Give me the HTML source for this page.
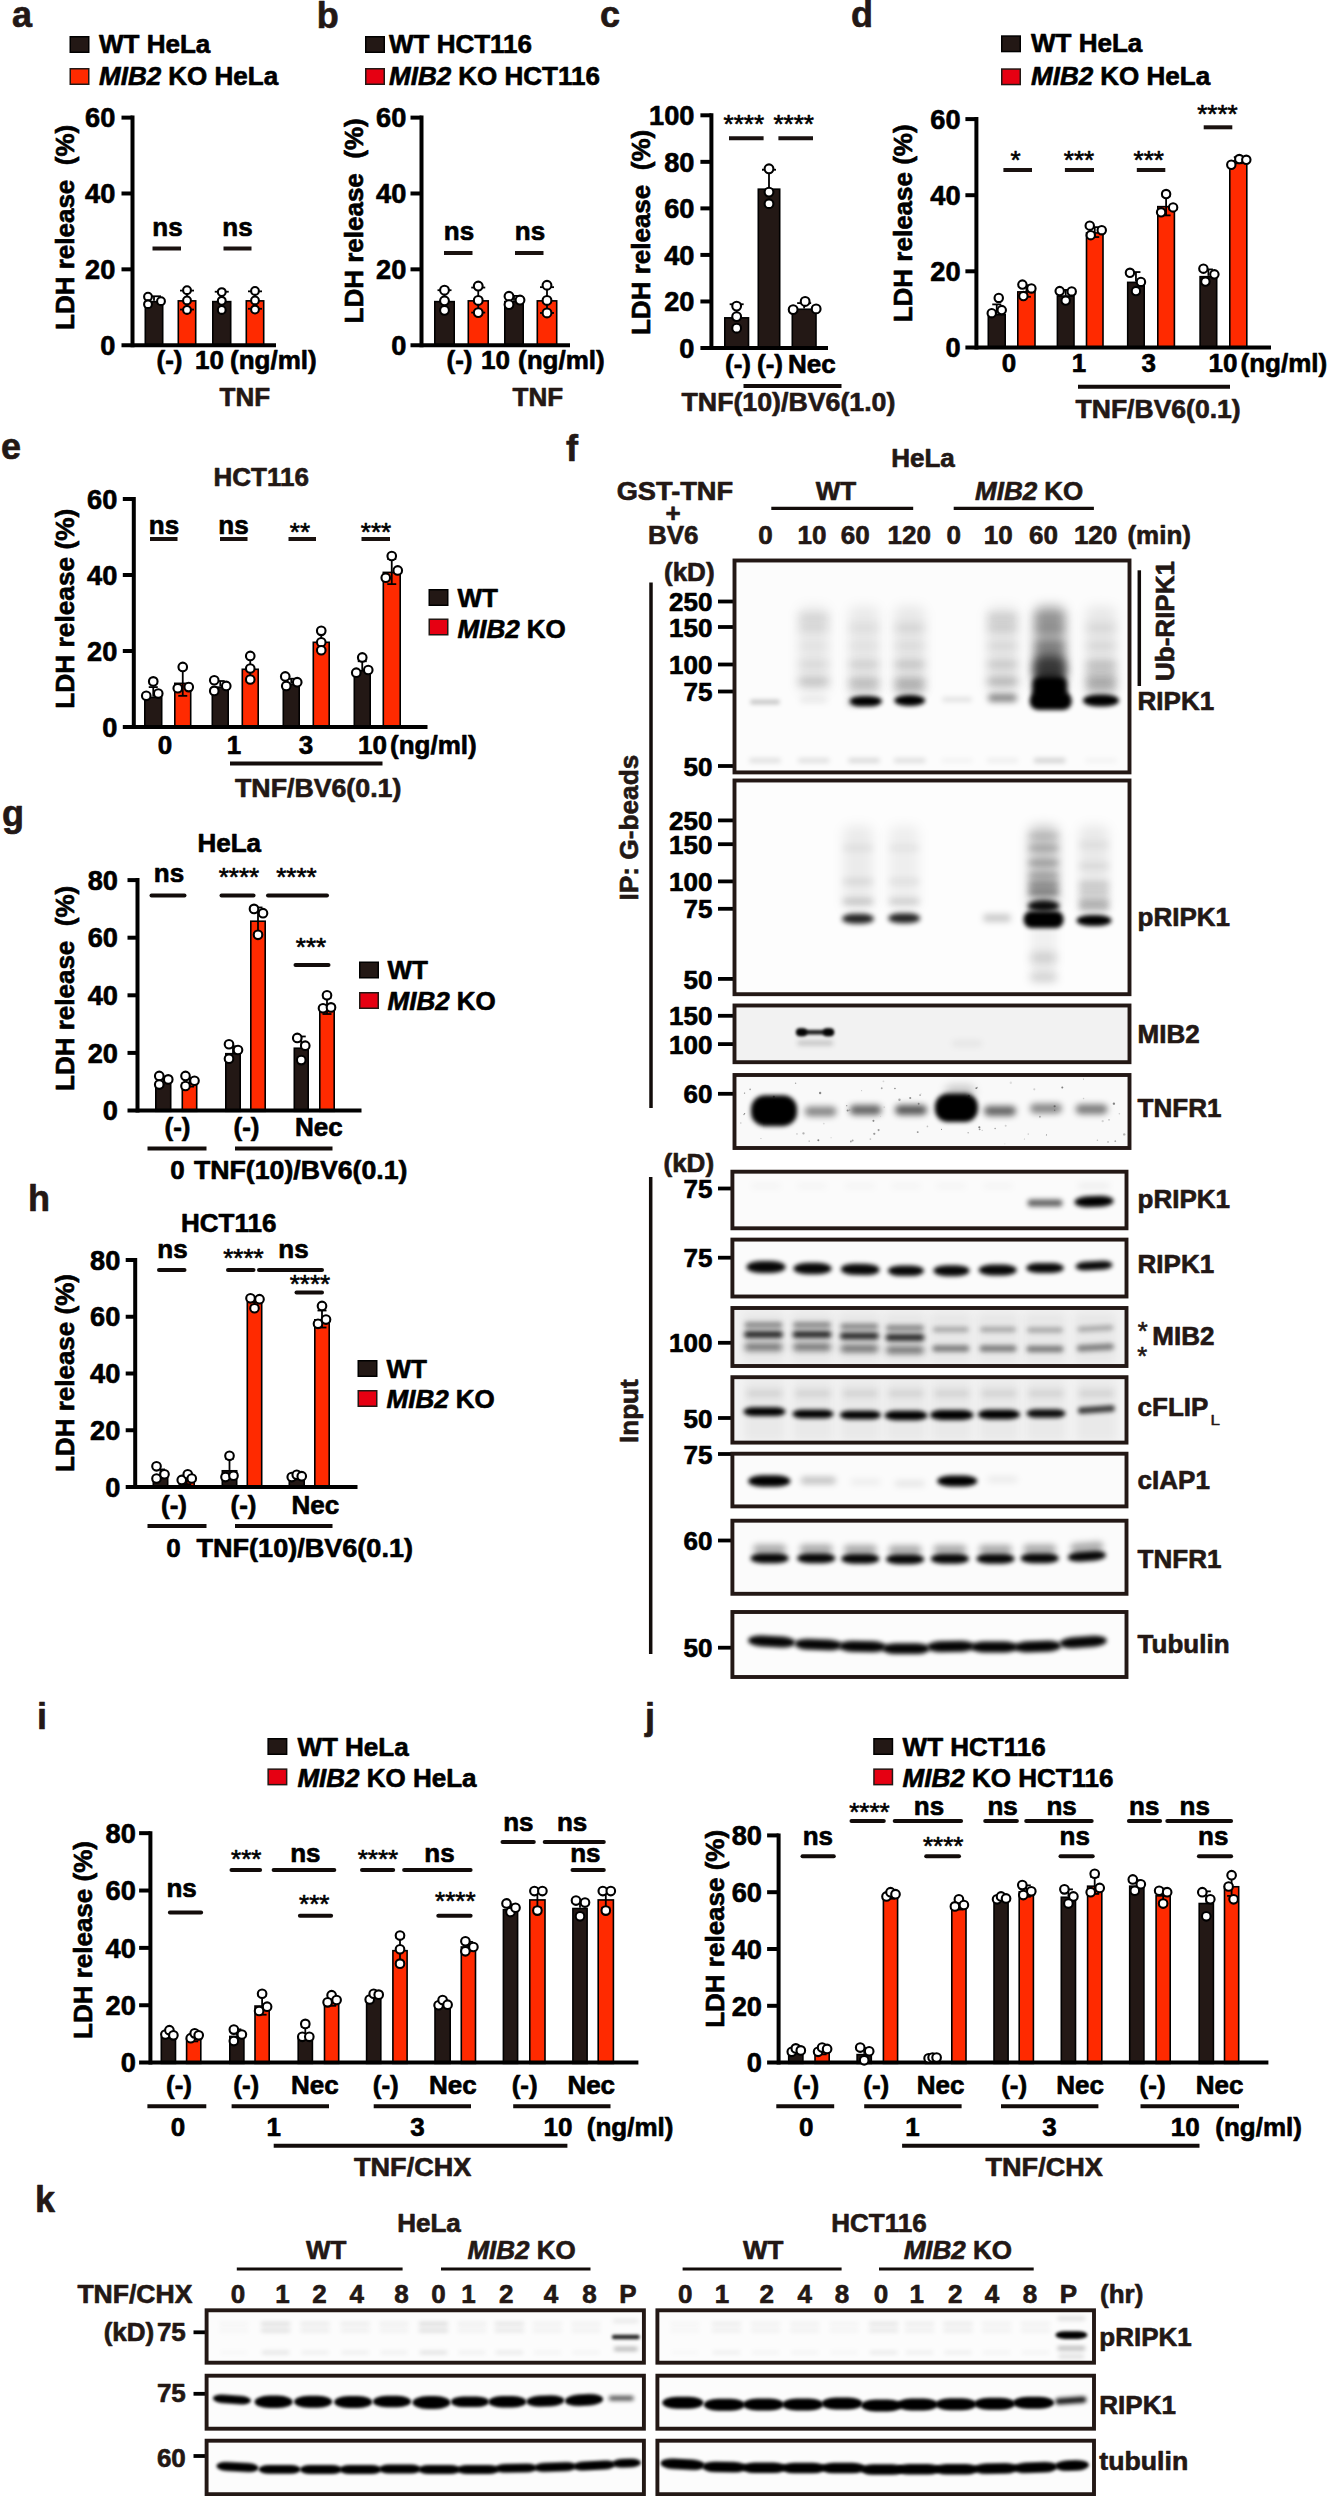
<!DOCTYPE html>
<html lang="en"><head><meta charset="utf-8"><title>Figure</title>
<style>
html,body{margin:0;padding:0;background:#fff}
svg{display:block}
svg text{font-family:"Liberation Sans",sans-serif;font-weight:bold;fill:#231815;stroke:#231815;stroke-width:0.65px;stroke-linejoin:round}
svg text.k{fill:#000;stroke:#000}
</style></head><body>
<svg width="1330" height="2496" viewBox="0 0 1330 2496">
<defs><filter id="bl1" x="-60%" y="-500%" width="220%" height="1100%"><feGaussianBlur stdDeviation="1"/></filter><filter id="bl1_5" x="-60%" y="-500%" width="220%" height="1100%"><feGaussianBlur stdDeviation="1.5"/></filter><filter id="bl1_8" x="-60%" y="-500%" width="220%" height="1100%"><feGaussianBlur stdDeviation="1.8"/></filter><filter id="bl2" x="-60%" y="-500%" width="220%" height="1100%"><feGaussianBlur stdDeviation="2"/></filter><filter id="bl2_5" x="-60%" y="-500%" width="220%" height="1100%"><feGaussianBlur stdDeviation="2.5"/></filter><filter id="bl3" x="-60%" y="-500%" width="220%" height="1100%"><feGaussianBlur stdDeviation="3"/></filter><filter id="bl3_0" x="-60%" y="-500%" width="220%" height="1100%"><feGaussianBlur stdDeviation="3.0"/></filter><filter id="bl4" x="-60%" y="-500%" width="220%" height="1100%"><feGaussianBlur stdDeviation="4"/></filter><filter id="bl5" x="-60%" y="-500%" width="220%" height="1100%"><feGaussianBlur stdDeviation="5"/></filter><filter id="bl6" x="-60%" y="-500%" width="220%" height="1100%"><feGaussianBlur stdDeviation="6"/></filter></defs>
<rect width="1330" height="2496" fill="#fff"/>
<text x="12" y="27" font-size="36" textLength="20.02" lengthAdjust="spacingAndGlyphs">a</text>
<rect x="70.25" y="36.75" width="18.5" height="15.5" fill="#231815" stroke="#000" stroke-width="1.5"/>
<rect x="70.25" y="68.75" width="18.5" height="15.5" fill="#ff2a00" stroke="#231815" stroke-width="1.5"/>
<text x="99" y="52.5" font-size="26" class="k" textLength="111.23" lengthAdjust="spacingAndGlyphs">WT HeLa</text>
<text x="99" y="84.5" font-size="26" class="k" textLength="179.15" lengthAdjust="spacingAndGlyphs"><tspan font-style="italic">MIB2</tspan> KO HeLa</text>
<text x="74" y="330" font-size="26" class="k" textLength="205.19" lengthAdjust="spacingAndGlyphs" transform="rotate(-90 74 330)">LDH release  (%)</text>
<rect x="145.3" y="301.62" width="17.4" height="44.38" fill="#231815" stroke="#000" stroke-width="1.6"/>
<line x1="154" y1="296.27" x2="154" y2="300.82" stroke="#000" stroke-width="1.8"/>
<line x1="147" y1="296.27" x2="161" y2="296.27" stroke="#000" stroke-width="1.8"/>
<rect x="178.3" y="300.86" width="17.4" height="45.14" fill="#ff2a00" stroke="#000" stroke-width="1.6"/>
<line x1="187" y1="290.58" x2="187" y2="309.55" stroke="#000" stroke-width="1.8"/>
<line x1="180" y1="290.58" x2="194" y2="290.58" stroke="#000" stroke-width="1.8"/>
<line x1="180" y1="309.55" x2="194" y2="309.55" stroke="#000" stroke-width="1.8"/>
<rect x="212.8" y="301.62" width="17.9" height="44.38" fill="#231815" stroke="#000" stroke-width="1.6"/>
<line x1="221.75" y1="291.72" x2="221.75" y2="300.82" stroke="#000" stroke-width="1.8"/>
<line x1="214.75" y1="291.72" x2="228.75" y2="291.72" stroke="#000" stroke-width="1.8"/>
<rect x="246.3" y="300.86" width="17.4" height="45.14" fill="#ff2a00" stroke="#000" stroke-width="1.6"/>
<line x1="255" y1="291.34" x2="255" y2="308.79" stroke="#000" stroke-width="1.8"/>
<line x1="248" y1="291.34" x2="262" y2="291.34" stroke="#000" stroke-width="1.8"/>
<line x1="248" y1="308.79" x2="262" y2="308.79" stroke="#000" stroke-width="1.8"/>
<line x1="132.5" y1="115.62" x2="132.5" y2="347.2" stroke="#000" stroke-width="4"/>
<line x1="121.5" y1="345.2" x2="276" y2="345.2" stroke="#000" stroke-width="4"/>
<text x="115.3" y="354.94" font-size="27.2" class="k" text-anchor="end" textLength="15.13" lengthAdjust="spacingAndGlyphs">0</text>
<line x1="121.5" y1="269.34" x2="132.5" y2="269.34" stroke="#000" stroke-width="4"/>
<text x="115.3" y="279.08" font-size="27.2" class="k" text-anchor="end" textLength="30.26" lengthAdjust="spacingAndGlyphs">20</text>
<line x1="121.5" y1="193.48" x2="132.5" y2="193.48" stroke="#000" stroke-width="4"/>
<text x="115.3" y="203.22" font-size="27.2" class="k" text-anchor="end" textLength="30.26" lengthAdjust="spacingAndGlyphs">40</text>
<line x1="121.5" y1="117.62" x2="132.5" y2="117.62" stroke="#000" stroke-width="4"/>
<text x="115.3" y="127.36" font-size="27.2" class="k" text-anchor="end" textLength="30.26" lengthAdjust="spacingAndGlyphs">60</text>
<circle cx="148" cy="296.65" r="3.9" fill="#fff" stroke="#000" stroke-width="2.1"/>
<circle cx="148" cy="304.24" r="3.9" fill="#fff" stroke="#000" stroke-width="2.1"/>
<circle cx="161" cy="301.2" r="3.9" fill="#fff" stroke="#000" stroke-width="2.1"/>
<circle cx="187" cy="290.2" r="3.9" fill="#fff" stroke="#000" stroke-width="2.1"/>
<circle cx="187" cy="300.44" r="3.9" fill="#fff" stroke="#000" stroke-width="2.1"/>
<circle cx="187" cy="309.93" r="3.9" fill="#fff" stroke="#000" stroke-width="2.1"/>
<circle cx="221.75" cy="292.1" r="3.9" fill="#fff" stroke="#000" stroke-width="2.1"/>
<circle cx="221.75" cy="300.82" r="3.9" fill="#fff" stroke="#000" stroke-width="2.1"/>
<circle cx="221.75" cy="309.93" r="3.9" fill="#fff" stroke="#000" stroke-width="2.1"/>
<circle cx="255" cy="290.96" r="3.9" fill="#fff" stroke="#000" stroke-width="2.1"/>
<circle cx="255" cy="300.44" r="3.9" fill="#fff" stroke="#000" stroke-width="2.1"/>
<circle cx="255" cy="309.55" r="3.9" fill="#fff" stroke="#000" stroke-width="2.1"/>
<text x="167.5" y="236" font-size="26" class="k" text-anchor="middle" textLength="30.34" lengthAdjust="spacingAndGlyphs">ns</text>
<line x1="152.5" y1="248.5" x2="181" y2="248.5" stroke="#1a1210" stroke-width="4"/>
<text x="237.5" y="236" font-size="26" class="k" text-anchor="middle" textLength="30.34" lengthAdjust="spacingAndGlyphs">ns</text>
<line x1="223.5" y1="248.5" x2="251.5" y2="248.5" stroke="#1a1210" stroke-width="4"/>
<text x="156.5" y="369" font-size="26" class="k" textLength="25.98" lengthAdjust="spacingAndGlyphs">(-)</text>
<text x="195" y="369" font-size="26" class="k" textLength="28.92" lengthAdjust="spacingAndGlyphs">10</text>
<text x="230" y="369" font-size="26" class="k" textLength="86.65" lengthAdjust="spacingAndGlyphs">(ng/ml)</text>
<text x="219.5" y="405.7" font-size="26" textLength="50.54" lengthAdjust="spacingAndGlyphs">TNF</text>
<text x="316.8" y="27.7" font-size="36" textLength="21.99" lengthAdjust="spacingAndGlyphs">b</text>
<rect x="365.75" y="36.75" width="18.5" height="15.5" fill="#231815" stroke="#000" stroke-width="1.5"/>
<rect x="365.75" y="68.75" width="18.5" height="15.5" fill="#e60012" stroke="#231815" stroke-width="1.5"/>
<text x="389" y="52.5" font-size="26" class="k" textLength="143.03" lengthAdjust="spacingAndGlyphs">WT HCT116</text>
<text x="389" y="84.5" font-size="26" class="k" textLength="210.95" lengthAdjust="spacingAndGlyphs"><tspan font-style="italic">MIB2</tspan> KO HCT116</text>
<text x="363.3" y="323.5" font-size="26" class="k" textLength="205.19" lengthAdjust="spacingAndGlyphs" transform="rotate(-90 363.3 323.5)">LDH release  (%)</text>
<rect x="434.8" y="301.62" width="19.4" height="44.38" fill="#231815" stroke="#000" stroke-width="1.6"/>
<line x1="444.5" y1="290.2" x2="444.5" y2="300.82" stroke="#000" stroke-width="1.8"/>
<line x1="437.5" y1="290.2" x2="451.5" y2="290.2" stroke="#000" stroke-width="1.8"/>
<rect x="468.3" y="300.86" width="19.9" height="45.14" fill="#ff2a00" stroke="#000" stroke-width="1.6"/>
<line x1="478.25" y1="287.55" x2="478.25" y2="312.58" stroke="#000" stroke-width="1.8"/>
<line x1="471.25" y1="287.55" x2="485.25" y2="287.55" stroke="#000" stroke-width="1.8"/>
<line x1="471.25" y1="312.58" x2="485.25" y2="312.58" stroke="#000" stroke-width="1.8"/>
<rect x="504.8" y="301.62" width="18.4" height="44.38" fill="#231815" stroke="#000" stroke-width="1.6"/>
<line x1="514" y1="295.89" x2="514" y2="300.82" stroke="#000" stroke-width="1.8"/>
<line x1="507" y1="295.89" x2="521" y2="295.89" stroke="#000" stroke-width="1.8"/>
<rect x="537.3" y="300.86" width="19.4" height="45.14" fill="#ff2a00" stroke="#000" stroke-width="1.6"/>
<line x1="547" y1="287.17" x2="547" y2="312.96" stroke="#000" stroke-width="1.8"/>
<line x1="540" y1="287.17" x2="554" y2="287.17" stroke="#000" stroke-width="1.8"/>
<line x1="540" y1="312.96" x2="554" y2="312.96" stroke="#000" stroke-width="1.8"/>
<line x1="421.5" y1="115.62" x2="421.5" y2="347.2" stroke="#000" stroke-width="4"/>
<line x1="410.5" y1="345.2" x2="570" y2="345.2" stroke="#000" stroke-width="4"/>
<text x="406.3" y="354.94" font-size="27.2" class="k" text-anchor="end" textLength="15.13" lengthAdjust="spacingAndGlyphs">0</text>
<line x1="410.5" y1="269.34" x2="421.5" y2="269.34" stroke="#000" stroke-width="4"/>
<text x="406.3" y="279.08" font-size="27.2" class="k" text-anchor="end" textLength="30.26" lengthAdjust="spacingAndGlyphs">20</text>
<line x1="410.5" y1="193.48" x2="421.5" y2="193.48" stroke="#000" stroke-width="4"/>
<text x="406.3" y="203.22" font-size="27.2" class="k" text-anchor="end" textLength="30.26" lengthAdjust="spacingAndGlyphs">40</text>
<line x1="410.5" y1="117.62" x2="421.5" y2="117.62" stroke="#000" stroke-width="4"/>
<text x="406.3" y="127.36" font-size="27.2" class="k" text-anchor="end" textLength="30.26" lengthAdjust="spacingAndGlyphs">60</text>
<circle cx="444.5" cy="290.2" r="4.4" fill="#fff" stroke="#000" stroke-width="2.1"/>
<circle cx="444.5" cy="300.82" r="4.4" fill="#fff" stroke="#000" stroke-width="2.1"/>
<circle cx="444.5" cy="310.3" r="4.4" fill="#fff" stroke="#000" stroke-width="2.1"/>
<circle cx="478.25" cy="286.03" r="4.4" fill="#fff" stroke="#000" stroke-width="2.1"/>
<circle cx="478.25" cy="300.44" r="4.4" fill="#fff" stroke="#000" stroke-width="2.1"/>
<circle cx="478.25" cy="312.58" r="4.4" fill="#fff" stroke="#000" stroke-width="2.1"/>
<circle cx="509" cy="296.27" r="4.4" fill="#fff" stroke="#000" stroke-width="2.1"/>
<circle cx="509" cy="304.61" r="4.4" fill="#fff" stroke="#000" stroke-width="2.1"/>
<circle cx="520" cy="300.06" r="4.4" fill="#fff" stroke="#000" stroke-width="2.1"/>
<circle cx="547" cy="285.27" r="4.4" fill="#fff" stroke="#000" stroke-width="2.1"/>
<circle cx="547" cy="300.44" r="4.4" fill="#fff" stroke="#000" stroke-width="2.1"/>
<circle cx="547" cy="312.96" r="4.4" fill="#fff" stroke="#000" stroke-width="2.1"/>
<text x="459" y="240" font-size="26" class="k" text-anchor="middle" textLength="30.34" lengthAdjust="spacingAndGlyphs">ns</text>
<line x1="444" y1="253" x2="472.5" y2="253" stroke="#1a1210" stroke-width="4"/>
<text x="530" y="240" font-size="26" class="k" text-anchor="middle" textLength="30.34" lengthAdjust="spacingAndGlyphs">ns</text>
<line x1="515" y1="253" x2="543.5" y2="253" stroke="#1a1210" stroke-width="4"/>
<text x="446.5" y="369" font-size="26" class="k" textLength="25.98" lengthAdjust="spacingAndGlyphs">(-)</text>
<text x="481" y="369" font-size="26" class="k" textLength="28.92" lengthAdjust="spacingAndGlyphs">10</text>
<text x="518" y="369" font-size="26" class="k" textLength="86.65" lengthAdjust="spacingAndGlyphs">(ng/ml)</text>
<text x="512.5" y="405.7" font-size="26" textLength="50.54" lengthAdjust="spacingAndGlyphs">TNF</text>
<text x="600" y="27" font-size="36" textLength="20.02" lengthAdjust="spacingAndGlyphs">c</text>
<text x="650.2" y="335" font-size="26" class="k" textLength="205.19" lengthAdjust="spacingAndGlyphs" transform="rotate(-90 650.2 335)">LDH release  (%)</text>
<rect x="724.8" y="317.85" width="23.7" height="30.95" fill="#231815" stroke="#000" stroke-width="1.6"/>
<line x1="736.65" y1="304.25" x2="736.65" y2="317.05" stroke="#000" stroke-width="1.8"/>
<line x1="729.65" y1="304.25" x2="743.65" y2="304.25" stroke="#000" stroke-width="1.8"/>
<rect x="758.3" y="189.17" width="21.4" height="159.63" fill="#231815" stroke="#000" stroke-width="1.6"/>
<line x1="769" y1="169.75" x2="769" y2="188.37" stroke="#000" stroke-width="1.8"/>
<line x1="762" y1="169.75" x2="776" y2="169.75" stroke="#000" stroke-width="1.8"/>
<rect x="792.3" y="309.24" width="23.7" height="39.56" fill="#231815" stroke="#000" stroke-width="1.6"/>
<line x1="804.15" y1="303.09" x2="804.15" y2="308.44" stroke="#000" stroke-width="1.8"/>
<line x1="797.15" y1="303.09" x2="811.15" y2="303.09" stroke="#000" stroke-width="1.8"/>
<line x1="711.4" y1="113.3" x2="711.4" y2="350" stroke="#000" stroke-width="4"/>
<line x1="700.4" y1="348" x2="828" y2="348" stroke="#000" stroke-width="4"/>
<text x="694.5" y="357.74" font-size="27.2" class="k" text-anchor="end" textLength="15.13" lengthAdjust="spacingAndGlyphs">0</text>
<line x1="700.4" y1="301.46" x2="711.4" y2="301.46" stroke="#000" stroke-width="4"/>
<text x="694.5" y="311.2" font-size="27.2" class="k" text-anchor="end" textLength="30.26" lengthAdjust="spacingAndGlyphs">20</text>
<line x1="700.4" y1="254.92" x2="711.4" y2="254.92" stroke="#000" stroke-width="4"/>
<text x="694.5" y="264.66" font-size="27.2" class="k" text-anchor="end" textLength="30.26" lengthAdjust="spacingAndGlyphs">40</text>
<line x1="700.4" y1="208.38" x2="711.4" y2="208.38" stroke="#000" stroke-width="4"/>
<text x="694.5" y="218.12" font-size="27.2" class="k" text-anchor="end" textLength="30.26" lengthAdjust="spacingAndGlyphs">60</text>
<line x1="700.4" y1="161.84" x2="711.4" y2="161.84" stroke="#000" stroke-width="4"/>
<text x="694.5" y="171.58" font-size="27.2" class="k" text-anchor="end" textLength="30.26" lengthAdjust="spacingAndGlyphs">80</text>
<line x1="700.4" y1="115.3" x2="711.4" y2="115.3" stroke="#000" stroke-width="4"/>
<text x="694.5" y="125.04" font-size="27.2" class="k" text-anchor="end" textLength="45.39" lengthAdjust="spacingAndGlyphs">100</text>
<circle cx="736.65" cy="306.11" r="4.4" fill="#fff" stroke="#000" stroke-width="2.1"/>
<circle cx="736.65" cy="316.59" r="4.4" fill="#fff" stroke="#000" stroke-width="2.1"/>
<circle cx="736.65" cy="328.22" r="4.4" fill="#fff" stroke="#000" stroke-width="2.1"/>
<circle cx="769" cy="168.82" r="4.4" fill="#fff" stroke="#000" stroke-width="2.1"/>
<circle cx="769" cy="192.09" r="4.4" fill="#fff" stroke="#000" stroke-width="2.1"/>
<circle cx="769" cy="203.73" r="4.4" fill="#fff" stroke="#000" stroke-width="2.1"/>
<circle cx="793.15" cy="309.6" r="4.4" fill="#fff" stroke="#000" stroke-width="2.1"/>
<circle cx="805.15" cy="301.46" r="4.4" fill="#fff" stroke="#000" stroke-width="2.1"/>
<circle cx="816.15" cy="308.91" r="4.4" fill="#fff" stroke="#000" stroke-width="2.1"/>
<text x="743.8" y="132.7" font-size="25.5" class="k" text-anchor="middle" textLength="40.48" lengthAdjust="spacingAndGlyphs" style="font-weight:normal;stroke-width:0.6px">****</text>
<line x1="729" y1="138.3" x2="763.6" y2="138.3" stroke="#1a1210" stroke-width="4"/>
<text x="793.7" y="132.7" font-size="25.5" class="k" text-anchor="middle" textLength="40.48" lengthAdjust="spacingAndGlyphs" style="font-weight:normal;stroke-width:0.6px">****</text>
<line x1="778.4" y1="138.3" x2="813" y2="138.3" stroke="#1a1210" stroke-width="4"/>
<text x="725" y="373" font-size="26" class="k" textLength="25.98" lengthAdjust="spacingAndGlyphs">(-)</text>
<text x="757" y="373" font-size="26" class="k" textLength="25.98" lengthAdjust="spacingAndGlyphs">(-)</text>
<text x="788" y="373" font-size="26" class="k" textLength="47.7" lengthAdjust="spacingAndGlyphs">Nec</text>
<line x1="743.5" y1="386" x2="841.5" y2="386" stroke="#120c0a" stroke-width="4"/>
<text x="681.5" y="410.5" font-size="26" textLength="213.88" lengthAdjust="spacingAndGlyphs">TNF(10)/BV6(1.0)</text>
<text x="851" y="27" font-size="36" textLength="21.99" lengthAdjust="spacingAndGlyphs">d</text>
<rect x="1001.75" y="36.05" width="18.5" height="15.5" fill="#231815" stroke="#000" stroke-width="1.5"/>
<rect x="1001.75" y="69.05" width="18.5" height="15.5" fill="#e60012" stroke="#231815" stroke-width="1.5"/>
<text x="1031" y="51.8" font-size="26" class="k" textLength="111.23" lengthAdjust="spacingAndGlyphs">WT HeLa</text>
<text x="1031" y="84.8" font-size="26" class="k" textLength="179.15" lengthAdjust="spacingAndGlyphs"><tspan font-style="italic">MIB2</tspan> KO HeLa</text>
<text x="912.3" y="322.3" font-size="26" class="k" textLength="197.96" lengthAdjust="spacingAndGlyphs" transform="rotate(-90 912.3 322.3)">LDH release (%)</text>
<rect x="988.3" y="314.72" width="16.9" height="33.48" fill="#231815" stroke="#000" stroke-width="1.6"/>
<line x1="996.75" y1="304.4" x2="996.75" y2="313.92" stroke="#000" stroke-width="1.8"/>
<line x1="992.25" y1="304.4" x2="1001.25" y2="304.4" stroke="#000" stroke-width="1.8"/>
<rect x="1017.8" y="291.89" width="17.2" height="56.31" fill="#ff2a00" stroke="#000" stroke-width="1.6"/>
<line x1="1026.4" y1="285.38" x2="1026.4" y2="296.79" stroke="#000" stroke-width="1.8"/>
<line x1="1021.9" y1="285.38" x2="1030.9" y2="285.38" stroke="#000" stroke-width="1.8"/>
<line x1="1021.9" y1="296.79" x2="1030.9" y2="296.79" stroke="#000" stroke-width="1.8"/>
<rect x="1057.4" y="296.07" width="16.6" height="52.13" fill="#231815" stroke="#000" stroke-width="1.6"/>
<line x1="1065.7" y1="289.94" x2="1065.7" y2="295.27" stroke="#000" stroke-width="1.8"/>
<line x1="1061.2" y1="289.94" x2="1070.2" y2="289.94" stroke="#000" stroke-width="1.8"/>
<rect x="1086.5" y="232.91" width="16.5" height="115.29" fill="#ff2a00" stroke="#000" stroke-width="1.6"/>
<line x1="1094.75" y1="227.16" x2="1094.75" y2="237.05" stroke="#000" stroke-width="1.8"/>
<line x1="1090.25" y1="227.16" x2="1099.25" y2="227.16" stroke="#000" stroke-width="1.8"/>
<line x1="1090.25" y1="237.05" x2="1099.25" y2="237.05" stroke="#000" stroke-width="1.8"/>
<rect x="1127.7" y="282.37" width="16.5" height="65.83" fill="#231815" stroke="#000" stroke-width="1.6"/>
<line x1="1135.95" y1="272.06" x2="1135.95" y2="281.57" stroke="#000" stroke-width="1.8"/>
<line x1="1131.45" y1="272.06" x2="1140.45" y2="272.06" stroke="#000" stroke-width="1.8"/>
<rect x="1157.8" y="206.65" width="16.6" height="141.55" fill="#ff2a00" stroke="#000" stroke-width="1.6"/>
<line x1="1166.1" y1="196.34" x2="1166.1" y2="215.37" stroke="#000" stroke-width="1.8"/>
<line x1="1161.6" y1="196.34" x2="1170.6" y2="196.34" stroke="#000" stroke-width="1.8"/>
<line x1="1161.6" y1="215.37" x2="1170.6" y2="215.37" stroke="#000" stroke-width="1.8"/>
<rect x="1200.1" y="276.67" width="16.6" height="71.53" fill="#231815" stroke="#000" stroke-width="1.6"/>
<line x1="1208.4" y1="269.4" x2="1208.4" y2="275.87" stroke="#000" stroke-width="1.8"/>
<line x1="1203.9" y1="269.4" x2="1212.9" y2="269.4" stroke="#000" stroke-width="1.8"/>
<rect x="1229.8" y="160.99" width="17" height="187.21" fill="#ff2a00" stroke="#000" stroke-width="1.6"/>
<line x1="1238.3" y1="157.15" x2="1238.3" y2="163.24" stroke="#000" stroke-width="1.8"/>
<line x1="1233.8" y1="157.15" x2="1242.8" y2="157.15" stroke="#000" stroke-width="1.8"/>
<line x1="1233.8" y1="163.24" x2="1242.8" y2="163.24" stroke="#000" stroke-width="1.8"/>
<line x1="976.4" y1="117.1" x2="976.4" y2="349.4" stroke="#000" stroke-width="4"/>
<line x1="965.4" y1="347.4" x2="1271" y2="347.4" stroke="#000" stroke-width="4"/>
<text x="960.6" y="357.14" font-size="27.2" class="k" text-anchor="end" textLength="15.13" lengthAdjust="spacingAndGlyphs">0</text>
<line x1="965.4" y1="271.3" x2="976.4" y2="271.3" stroke="#000" stroke-width="4"/>
<text x="960.6" y="281.04" font-size="27.2" class="k" text-anchor="end" textLength="30.26" lengthAdjust="spacingAndGlyphs">20</text>
<line x1="965.4" y1="195.2" x2="976.4" y2="195.2" stroke="#000" stroke-width="4"/>
<text x="960.6" y="204.94" font-size="27.2" class="k" text-anchor="end" textLength="30.26" lengthAdjust="spacingAndGlyphs">40</text>
<line x1="965.4" y1="119.1" x2="976.4" y2="119.1" stroke="#000" stroke-width="4"/>
<text x="960.6" y="128.84" font-size="27.2" class="k" text-anchor="end" textLength="30.26" lengthAdjust="spacingAndGlyphs">60</text>
<circle cx="998.75" cy="297.93" r="4.2" fill="#fff" stroke="#000" stroke-width="2.1"/>
<circle cx="991.75" cy="313.15" r="4.2" fill="#fff" stroke="#000" stroke-width="2.1"/>
<circle cx="1001.75" cy="310.11" r="4.2" fill="#fff" stroke="#000" stroke-width="2.1"/>
<circle cx="1022.4" cy="284.62" r="4.2" fill="#fff" stroke="#000" stroke-width="2.1"/>
<circle cx="1031.4" cy="288.42" r="4.2" fill="#fff" stroke="#000" stroke-width="2.1"/>
<circle cx="1023.4" cy="296.03" r="4.2" fill="#fff" stroke="#000" stroke-width="2.1"/>
<circle cx="1059.7" cy="291.09" r="4.2" fill="#fff" stroke="#000" stroke-width="2.1"/>
<circle cx="1071.7" cy="291.47" r="4.2" fill="#fff" stroke="#000" stroke-width="2.1"/>
<circle cx="1065.7" cy="300.6" r="4.2" fill="#fff" stroke="#000" stroke-width="2.1"/>
<circle cx="1089.75" cy="225.64" r="4.2" fill="#fff" stroke="#000" stroke-width="2.1"/>
<circle cx="1090.75" cy="235.15" r="4.2" fill="#fff" stroke="#000" stroke-width="2.1"/>
<circle cx="1101.75" cy="230.21" r="4.2" fill="#fff" stroke="#000" stroke-width="2.1"/>
<circle cx="1129.95" cy="272.82" r="4.2" fill="#fff" stroke="#000" stroke-width="2.1"/>
<circle cx="1140.95" cy="281.95" r="4.2" fill="#fff" stroke="#000" stroke-width="2.1"/>
<circle cx="1135.95" cy="291.09" r="4.2" fill="#fff" stroke="#000" stroke-width="2.1"/>
<circle cx="1166.1" cy="194.06" r="4.2" fill="#fff" stroke="#000" stroke-width="2.1"/>
<circle cx="1173.1" cy="207.38" r="4.2" fill="#fff" stroke="#000" stroke-width="2.1"/>
<circle cx="1161.1" cy="212.32" r="4.2" fill="#fff" stroke="#000" stroke-width="2.1"/>
<circle cx="1203.4" cy="268.64" r="4.2" fill="#fff" stroke="#000" stroke-width="2.1"/>
<circle cx="1214.4" cy="274.34" r="4.2" fill="#fff" stroke="#000" stroke-width="2.1"/>
<circle cx="1205.4" cy="281.57" r="4.2" fill="#fff" stroke="#000" stroke-width="2.1"/>
<circle cx="1231.3" cy="164.76" r="4.2" fill="#fff" stroke="#000" stroke-width="2.1"/>
<circle cx="1239.3" cy="159.05" r="4.2" fill="#fff" stroke="#000" stroke-width="2.1"/>
<circle cx="1246.3" cy="159.81" r="4.2" fill="#fff" stroke="#000" stroke-width="2.1"/>
<text x="1015.5" y="168.7" font-size="25.5" class="k" text-anchor="middle" textLength="10.12" lengthAdjust="spacingAndGlyphs" style="font-weight:normal;stroke-width:0.6px">*</text>
<line x1="1003.4" y1="170" x2="1032" y2="170" stroke="#1a1210" stroke-width="4"/>
<text x="1079" y="168.7" font-size="25.5" class="k" text-anchor="middle" textLength="30.36" lengthAdjust="spacingAndGlyphs" style="font-weight:normal;stroke-width:0.6px">***</text>
<line x1="1064.9" y1="170" x2="1094" y2="170" stroke="#1a1210" stroke-width="4"/>
<text x="1148.8" y="168.7" font-size="25.5" class="k" text-anchor="middle" textLength="30.36" lengthAdjust="spacingAndGlyphs" style="font-weight:normal;stroke-width:0.6px">***</text>
<line x1="1136.8" y1="170" x2="1165.3" y2="170" stroke="#1a1210" stroke-width="4"/>
<text x="1217.5" y="123.2" font-size="25.5" class="k" text-anchor="middle" textLength="40.48" lengthAdjust="spacingAndGlyphs" style="font-weight:normal;stroke-width:0.6px">****</text>
<line x1="1203.7" y1="127.3" x2="1232.3" y2="127.3" stroke="#1a1210" stroke-width="4"/>
<text x="1008.9" y="371.6" font-size="26" class="k" text-anchor="middle" textLength="14.46" lengthAdjust="spacingAndGlyphs">0</text>
<text x="1079" y="371.6" font-size="26" class="k" text-anchor="middle" textLength="14.46" lengthAdjust="spacingAndGlyphs">1</text>
<text x="1148.8" y="371.6" font-size="26" class="k" text-anchor="middle" textLength="14.46" lengthAdjust="spacingAndGlyphs">3</text>
<text x="1223" y="371.6" font-size="26" class="k" text-anchor="middle" textLength="28.92" lengthAdjust="spacingAndGlyphs">10</text>
<text x="1240.5" y="371.6" font-size="26" class="k" textLength="86.65" lengthAdjust="spacingAndGlyphs">(ng/ml)</text>
<line x1="1078" y1="386.8" x2="1230" y2="386.8" stroke="#120c0a" stroke-width="4"/>
<text x="1075.5" y="418" font-size="26" textLength="165.17" lengthAdjust="spacingAndGlyphs">TNF/BV6(0.1)</text>
<text x="1" y="458.5" font-size="36" textLength="20.02" lengthAdjust="spacingAndGlyphs">e</text>
<text x="213.5" y="486" font-size="26" textLength="95.39" lengthAdjust="spacingAndGlyphs">HCT116</text>
<text x="73.8" y="708.7" font-size="26" class="k" textLength="200.02" lengthAdjust="spacingAndGlyphs" transform="rotate(-90 73.8 708.7)">LDH release (%)</text>
<rect x="144.8" y="697.4" width="16.9" height="30.4" fill="#231815" stroke="#000" stroke-width="1.6"/>
<line x1="153.25" y1="687.1" x2="153.25" y2="696.6" stroke="#000" stroke-width="1.8"/>
<line x1="148.75" y1="687.1" x2="157.75" y2="687.1" stroke="#000" stroke-width="1.8"/>
<rect x="174.8" y="683.34" width="15.9" height="44.46" fill="#ff2a00" stroke="#000" stroke-width="1.6"/>
<line x1="182.75" y1="669.24" x2="182.75" y2="695.84" stroke="#000" stroke-width="1.8"/>
<line x1="178.25" y1="669.24" x2="187.25" y2="669.24" stroke="#000" stroke-width="1.8"/>
<line x1="178.25" y1="695.84" x2="187.25" y2="695.84" stroke="#000" stroke-width="1.8"/>
<rect x="212.3" y="687.14" width="15.9" height="40.66" fill="#231815" stroke="#000" stroke-width="1.6"/>
<line x1="220.25" y1="681.02" x2="220.25" y2="686.34" stroke="#000" stroke-width="1.8"/>
<line x1="215.75" y1="681.02" x2="224.75" y2="681.02" stroke="#000" stroke-width="1.8"/>
<rect x="242.3" y="669.28" width="15.9" height="58.52" fill="#ff2a00" stroke="#000" stroke-width="1.6"/>
<line x1="250.25" y1="657.08" x2="250.25" y2="679.88" stroke="#000" stroke-width="1.8"/>
<line x1="245.75" y1="657.08" x2="254.75" y2="657.08" stroke="#000" stroke-width="1.8"/>
<line x1="245.75" y1="679.88" x2="254.75" y2="679.88" stroke="#000" stroke-width="1.8"/>
<rect x="283.3" y="684.48" width="15.9" height="43.32" fill="#231815" stroke="#000" stroke-width="1.6"/>
<line x1="291.25" y1="678.74" x2="291.25" y2="683.68" stroke="#000" stroke-width="1.8"/>
<line x1="286.75" y1="678.74" x2="295.75" y2="678.74" stroke="#000" stroke-width="1.8"/>
<rect x="313.3" y="642.3" width="15.9" height="85.5" fill="#ff2a00" stroke="#000" stroke-width="1.6"/>
<line x1="321.25" y1="632" x2="321.25" y2="651" stroke="#000" stroke-width="1.8"/>
<line x1="316.75" y1="632" x2="325.75" y2="632" stroke="#000" stroke-width="1.8"/>
<line x1="316.75" y1="651" x2="325.75" y2="651" stroke="#000" stroke-width="1.8"/>
<rect x="354.3" y="670.8" width="15.9" height="57" fill="#231815" stroke="#000" stroke-width="1.6"/>
<line x1="362.25" y1="661.26" x2="362.25" y2="670" stroke="#000" stroke-width="1.8"/>
<line x1="357.75" y1="661.26" x2="366.75" y2="661.26" stroke="#000" stroke-width="1.8"/>
<rect x="383.3" y="572.38" width="16.9" height="155.42" fill="#ff2a00" stroke="#000" stroke-width="1.6"/>
<line x1="391.75" y1="559.04" x2="391.75" y2="584.12" stroke="#000" stroke-width="1.8"/>
<line x1="387.25" y1="559.04" x2="396.25" y2="559.04" stroke="#000" stroke-width="1.8"/>
<line x1="387.25" y1="584.12" x2="396.25" y2="584.12" stroke="#000" stroke-width="1.8"/>
<line x1="133.8" y1="497" x2="133.8" y2="729" stroke="#000" stroke-width="4"/>
<line x1="122.8" y1="727" x2="427.5" y2="727" stroke="#000" stroke-width="4"/>
<text x="117.3" y="736.74" font-size="27.2" class="k" text-anchor="end" textLength="15.13" lengthAdjust="spacingAndGlyphs">0</text>
<line x1="122.8" y1="651" x2="133.8" y2="651" stroke="#000" stroke-width="4"/>
<text x="117.3" y="660.74" font-size="27.2" class="k" text-anchor="end" textLength="30.26" lengthAdjust="spacingAndGlyphs">20</text>
<line x1="122.8" y1="575" x2="133.8" y2="575" stroke="#000" stroke-width="4"/>
<text x="117.3" y="584.74" font-size="27.2" class="k" text-anchor="end" textLength="30.26" lengthAdjust="spacingAndGlyphs">40</text>
<line x1="122.8" y1="499" x2="133.8" y2="499" stroke="#000" stroke-width="4"/>
<text x="117.3" y="508.74" font-size="27.2" class="k" text-anchor="end" textLength="30.26" lengthAdjust="spacingAndGlyphs">60</text>
<circle cx="153.25" cy="681.4" r="4.3" fill="#fff" stroke="#000" stroke-width="2.1"/>
<circle cx="146.25" cy="695.84" r="4.3" fill="#fff" stroke="#000" stroke-width="2.1"/>
<circle cx="158.25" cy="693.56" r="4.3" fill="#fff" stroke="#000" stroke-width="2.1"/>
<circle cx="182.75" cy="666.96" r="4.3" fill="#fff" stroke="#000" stroke-width="2.1"/>
<circle cx="177.75" cy="688.24" r="4.3" fill="#fff" stroke="#000" stroke-width="2.1"/>
<circle cx="188.75" cy="687.1" r="4.3" fill="#fff" stroke="#000" stroke-width="2.1"/>
<circle cx="214.25" cy="680.26" r="4.3" fill="#fff" stroke="#000" stroke-width="2.1"/>
<circle cx="214.25" cy="690.9" r="4.3" fill="#fff" stroke="#000" stroke-width="2.1"/>
<circle cx="226.25" cy="685.96" r="4.3" fill="#fff" stroke="#000" stroke-width="2.1"/>
<circle cx="250.25" cy="655.94" r="4.3" fill="#fff" stroke="#000" stroke-width="2.1"/>
<circle cx="250.25" cy="668.48" r="4.3" fill="#fff" stroke="#000" stroke-width="2.1"/>
<circle cx="250.25" cy="679.5" r="4.3" fill="#fff" stroke="#000" stroke-width="2.1"/>
<circle cx="285.25" cy="676.46" r="4.3" fill="#fff" stroke="#000" stroke-width="2.1"/>
<circle cx="286.25" cy="685.96" r="4.3" fill="#fff" stroke="#000" stroke-width="2.1"/>
<circle cx="297.25" cy="682.16" r="4.3" fill="#fff" stroke="#000" stroke-width="2.1"/>
<circle cx="321.25" cy="630.86" r="4.3" fill="#fff" stroke="#000" stroke-width="2.1"/>
<circle cx="321.25" cy="642.26" r="4.3" fill="#fff" stroke="#000" stroke-width="2.1"/>
<circle cx="321.25" cy="650.24" r="4.3" fill="#fff" stroke="#000" stroke-width="2.1"/>
<circle cx="362.25" cy="657.46" r="4.3" fill="#fff" stroke="#000" stroke-width="2.1"/>
<circle cx="356.25" cy="672.66" r="4.3" fill="#fff" stroke="#000" stroke-width="2.1"/>
<circle cx="368.25" cy="670" r="4.3" fill="#fff" stroke="#000" stroke-width="2.1"/>
<circle cx="391.75" cy="556" r="4.3" fill="#fff" stroke="#000" stroke-width="2.1"/>
<circle cx="385.75" cy="577.66" r="4.3" fill="#fff" stroke="#000" stroke-width="2.1"/>
<circle cx="397.75" cy="570.44" r="4.3" fill="#fff" stroke="#000" stroke-width="2.1"/>
<text x="164" y="533.5" font-size="26" class="k" text-anchor="middle" textLength="30.34" lengthAdjust="spacingAndGlyphs">ns</text>
<line x1="150" y1="539" x2="177.5" y2="539" stroke="#1a1210" stroke-width="4"/>
<text x="233.5" y="533.5" font-size="26" class="k" text-anchor="middle" textLength="30.34" lengthAdjust="spacingAndGlyphs">ns</text>
<line x1="220" y1="539" x2="247.5" y2="539" stroke="#1a1210" stroke-width="4"/>
<text x="300" y="540.7" font-size="25.5" class="k" text-anchor="middle" textLength="20.24" lengthAdjust="spacingAndGlyphs" style="font-weight:normal;stroke-width:0.6px">**</text>
<line x1="288.5" y1="539" x2="316" y2="539" stroke="#1a1210" stroke-width="4"/>
<text x="376" y="540.7" font-size="25.5" class="k" text-anchor="middle" textLength="30.36" lengthAdjust="spacingAndGlyphs" style="font-weight:normal;stroke-width:0.6px">***</text>
<line x1="361.5" y1="539" x2="390" y2="539" stroke="#1a1210" stroke-width="4"/>
<text x="165" y="754" font-size="26" class="k" text-anchor="middle" textLength="14.46" lengthAdjust="spacingAndGlyphs">0</text>
<text x="234" y="754" font-size="26" class="k" text-anchor="middle" textLength="14.46" lengthAdjust="spacingAndGlyphs">1</text>
<text x="306" y="754" font-size="26" class="k" text-anchor="middle" textLength="14.46" lengthAdjust="spacingAndGlyphs">3</text>
<text x="372.5" y="754" font-size="26" class="k" text-anchor="middle" textLength="28.92" lengthAdjust="spacingAndGlyphs">10</text>
<text x="390" y="754" font-size="26" class="k" textLength="86.65" lengthAdjust="spacingAndGlyphs">(ng/ml)</text>
<line x1="230" y1="763.5" x2="382.5" y2="763.5" stroke="#120c0a" stroke-width="4"/>
<text x="235" y="796.5" font-size="26" textLength="166.34" lengthAdjust="spacingAndGlyphs">TNF/BV6(0.1)</text>
<rect x="429.25" y="589.75" width="18.5" height="15.5" fill="#231815" stroke="#000" stroke-width="1.5"/>
<rect x="429.25" y="619.25" width="18.5" height="15.5" fill="#e60012" stroke="#231815" stroke-width="1.5"/>
<text x="457.5" y="606.5" font-size="26" class="k" textLength="40.42" lengthAdjust="spacingAndGlyphs">WT</text>
<text x="457.5" y="638" font-size="26" class="k" textLength="108.34" lengthAdjust="spacingAndGlyphs"><tspan font-style="italic">MIB2</tspan> KO</text>
<text x="2" y="826" font-size="36" textLength="21.99" lengthAdjust="spacingAndGlyphs">g</text>
<text x="197.5" y="851.5" font-size="26" class="k" textLength="63.58" lengthAdjust="spacingAndGlyphs">HeLa</text>
<text x="73.5" y="1091" font-size="26" class="k" textLength="205.19" lengthAdjust="spacingAndGlyphs" transform="rotate(-90 73.5 1091)">LDH release  (%)</text>
<rect x="155.8" y="1081.92" width="14.9" height="29.38" fill="#231815" stroke="#000" stroke-width="1.6"/>
<line x1="163.25" y1="1076.8" x2="163.25" y2="1081.12" stroke="#000" stroke-width="1.8"/>
<line x1="158.75" y1="1076.8" x2="167.75" y2="1076.8" stroke="#000" stroke-width="1.8"/>
<rect x="182.3" y="1083.08" width="14.4" height="28.22" fill="#ff2a00" stroke="#000" stroke-width="1.6"/>
<line x1="189.5" y1="1077.96" x2="189.5" y2="1086.6" stroke="#000" stroke-width="1.8"/>
<line x1="185" y1="1077.96" x2="194" y2="1077.96" stroke="#000" stroke-width="1.8"/>
<line x1="185" y1="1086.6" x2="194" y2="1086.6" stroke="#000" stroke-width="1.8"/>
<rect x="225.8" y="1053.7" width="14.4" height="57.6" fill="#231815" stroke="#000" stroke-width="1.6"/>
<line x1="233" y1="1046.28" x2="233" y2="1052.9" stroke="#000" stroke-width="1.8"/>
<line x1="228.5" y1="1046.28" x2="237.5" y2="1046.28" stroke="#000" stroke-width="1.8"/>
<rect x="250.8" y="921.22" width="14.4" height="190.08" fill="#ff2a00" stroke="#000" stroke-width="1.6"/>
<line x1="258" y1="907.46" x2="258" y2="933.38" stroke="#000" stroke-width="1.8"/>
<line x1="253.5" y1="907.46" x2="262.5" y2="907.46" stroke="#000" stroke-width="1.8"/>
<line x1="253.5" y1="933.38" x2="262.5" y2="933.38" stroke="#000" stroke-width="1.8"/>
<rect x="294.3" y="1048.23" width="13.9" height="63.07" fill="#231815" stroke="#000" stroke-width="1.6"/>
<line x1="301.25" y1="1036.48" x2="301.25" y2="1047.43" stroke="#000" stroke-width="1.8"/>
<line x1="296.75" y1="1036.48" x2="305.75" y2="1036.48" stroke="#000" stroke-width="1.8"/>
<rect x="319.8" y="1006.76" width="14.4" height="104.54" fill="#ff2a00" stroke="#000" stroke-width="1.6"/>
<line x1="327" y1="997.89" x2="327" y2="1014.02" stroke="#000" stroke-width="1.8"/>
<line x1="322.5" y1="997.89" x2="331.5" y2="997.89" stroke="#000" stroke-width="1.8"/>
<line x1="322.5" y1="1014.02" x2="331.5" y2="1014.02" stroke="#000" stroke-width="1.8"/>
<line x1="137.5" y1="878.1" x2="137.5" y2="1112.5" stroke="#000" stroke-width="4"/>
<line x1="127.5" y1="1110.5" x2="361.5" y2="1110.5" stroke="#000" stroke-width="4"/>
<text x="118" y="1120.24" font-size="27.2" class="k" text-anchor="end" textLength="15.13" lengthAdjust="spacingAndGlyphs">0</text>
<line x1="127.5" y1="1052.9" x2="137.5" y2="1052.9" stroke="#000" stroke-width="4"/>
<text x="118" y="1062.64" font-size="27.2" class="k" text-anchor="end" textLength="30.26" lengthAdjust="spacingAndGlyphs">20</text>
<line x1="127.5" y1="995.3" x2="137.5" y2="995.3" stroke="#000" stroke-width="4"/>
<text x="118" y="1005.04" font-size="27.2" class="k" text-anchor="end" textLength="30.26" lengthAdjust="spacingAndGlyphs">40</text>
<line x1="127.5" y1="937.7" x2="137.5" y2="937.7" stroke="#000" stroke-width="4"/>
<text x="118" y="947.44" font-size="27.2" class="k" text-anchor="end" textLength="30.26" lengthAdjust="spacingAndGlyphs">60</text>
<line x1="127.5" y1="880.1" x2="137.5" y2="880.1" stroke="#000" stroke-width="4"/>
<text x="118" y="889.84" font-size="27.2" class="k" text-anchor="end" textLength="30.26" lengthAdjust="spacingAndGlyphs">80</text>
<circle cx="159.25" cy="1075.94" r="4.3" fill="#fff" stroke="#000" stroke-width="2.1"/>
<circle cx="159.25" cy="1084.58" r="4.3" fill="#fff" stroke="#000" stroke-width="2.1"/>
<circle cx="168.25" cy="1079.4" r="4.3" fill="#fff" stroke="#000" stroke-width="2.1"/>
<circle cx="185.5" cy="1075.94" r="4.3" fill="#fff" stroke="#000" stroke-width="2.1"/>
<circle cx="185.5" cy="1086.02" r="4.3" fill="#fff" stroke="#000" stroke-width="2.1"/>
<circle cx="194.5" cy="1080.84" r="4.3" fill="#fff" stroke="#000" stroke-width="2.1"/>
<circle cx="229" cy="1044.26" r="4.3" fill="#fff" stroke="#000" stroke-width="2.1"/>
<circle cx="229" cy="1058.66" r="4.3" fill="#fff" stroke="#000" stroke-width="2.1"/>
<circle cx="238" cy="1050.02" r="4.3" fill="#fff" stroke="#000" stroke-width="2.1"/>
<circle cx="254" cy="908.9" r="4.3" fill="#fff" stroke="#000" stroke-width="2.1"/>
<circle cx="263" cy="913.22" r="4.3" fill="#fff" stroke="#000" stroke-width="2.1"/>
<circle cx="258" cy="934.82" r="4.3" fill="#fff" stroke="#000" stroke-width="2.1"/>
<circle cx="297.25" cy="1037.92" r="4.3" fill="#fff" stroke="#000" stroke-width="2.1"/>
<circle cx="305.25" cy="1045.7" r="4.3" fill="#fff" stroke="#000" stroke-width="2.1"/>
<circle cx="301.25" cy="1060.1" r="4.3" fill="#fff" stroke="#000" stroke-width="2.1"/>
<circle cx="327" cy="995.3" r="4.3" fill="#fff" stroke="#000" stroke-width="2.1"/>
<circle cx="323" cy="1008.26" r="4.3" fill="#fff" stroke="#000" stroke-width="2.1"/>
<circle cx="331" cy="1007.4" r="4.3" fill="#fff" stroke="#000" stroke-width="2.1"/>
<text x="169" y="881.5" font-size="26" class="k" text-anchor="middle" textLength="30.34" lengthAdjust="spacingAndGlyphs">ns</text>
<line x1="151.5" y1="895.5" x2="184.5" y2="895.5" stroke="#120c0a" stroke-width="4" stroke-linecap="round"/>
<text x="239" y="885.7" font-size="25.5" class="k" text-anchor="middle" textLength="40.48" lengthAdjust="spacingAndGlyphs" style="font-weight:normal;stroke-width:0.6px">****</text>
<line x1="221.5" y1="895.5" x2="253.5" y2="895.5" stroke="#120c0a" stroke-width="4" stroke-linecap="round"/>
<text x="296.5" y="885.7" font-size="25.5" class="k" text-anchor="middle" textLength="40.48" lengthAdjust="spacingAndGlyphs" style="font-weight:normal;stroke-width:0.6px">****</text>
<line x1="268" y1="895.5" x2="327" y2="895.5" stroke="#120c0a" stroke-width="4" stroke-linecap="round"/>
<text x="311" y="955.7" font-size="25.5" class="k" text-anchor="middle" textLength="30.36" lengthAdjust="spacingAndGlyphs" style="font-weight:normal;stroke-width:0.6px">***</text>
<line x1="295.5" y1="965" x2="328.5" y2="965" stroke="#120c0a" stroke-width="4" stroke-linecap="round"/>
<text x="177.5" y="1136" font-size="26" class="k" text-anchor="middle" textLength="25.98" lengthAdjust="spacingAndGlyphs">(-)</text>
<text x="246.5" y="1136" font-size="26" class="k" text-anchor="middle" textLength="25.98" lengthAdjust="spacingAndGlyphs">(-)</text>
<text x="295" y="1136" font-size="26" class="k" textLength="47.7" lengthAdjust="spacingAndGlyphs">Nec</text>
<line x1="147.5" y1="1148.5" x2="206.5" y2="1148.5" stroke="#120c0a" stroke-width="4"/>
<line x1="235" y1="1148.5" x2="332.5" y2="1148.5" stroke="#120c0a" stroke-width="4"/>
<text x="177.5" y="1178.5" font-size="26" class="k" text-anchor="middle" textLength="14.46" lengthAdjust="spacingAndGlyphs">0</text>
<text x="194" y="1178.5" font-size="26" class="k" textLength="213.44" lengthAdjust="spacingAndGlyphs">TNF(10)/BV6(0.1)</text>
<rect x="359.75" y="962.25" width="18.5" height="15.5" fill="#231815" stroke="#000" stroke-width="1.5"/>
<rect x="359.75" y="992.75" width="18.5" height="15.5" fill="#e60012" stroke="#231815" stroke-width="1.5"/>
<text x="387.5" y="979.3" font-size="26" class="k" textLength="40.42" lengthAdjust="spacingAndGlyphs">WT</text>
<text x="387.5" y="1009.5" font-size="26" class="k" textLength="108.34" lengthAdjust="spacingAndGlyphs"><tspan font-style="italic">MIB2</tspan> KO</text>
<text x="28" y="1211" font-size="36" textLength="21.99" lengthAdjust="spacingAndGlyphs">h</text>
<text x="181" y="1231.5" font-size="26" class="k" textLength="95.39" lengthAdjust="spacingAndGlyphs">HCT116</text>
<text x="73.6" y="1472" font-size="26" class="k" textLength="197.96" lengthAdjust="spacingAndGlyphs" transform="rotate(-90 73.6 1472)">LDH release (%)</text>
<rect x="153.3" y="1477.3" width="14.4" height="10.5" fill="#231815" stroke="#000" stroke-width="1.6"/>
<line x1="160.5" y1="1469.41" x2="160.5" y2="1476.5" stroke="#000" stroke-width="1.8"/>
<line x1="156" y1="1469.41" x2="165" y2="1469.41" stroke="#000" stroke-width="1.8"/>
<rect x="179.3" y="1480.71" width="14.9" height="7.09" fill="#ff2a00" stroke="#000" stroke-width="1.6"/>
<line x1="186.75" y1="1475.65" x2="186.75" y2="1484.16" stroke="#000" stroke-width="1.8"/>
<line x1="182.25" y1="1475.65" x2="191.25" y2="1475.65" stroke="#000" stroke-width="1.8"/>
<line x1="182.25" y1="1484.16" x2="191.25" y2="1484.16" stroke="#000" stroke-width="1.8"/>
<rect x="222.3" y="1470.77" width="14.4" height="17.03" fill="#231815" stroke="#000" stroke-width="1.6"/>
<line x1="229.5" y1="1458.62" x2="229.5" y2="1469.97" stroke="#000" stroke-width="1.8"/>
<line x1="225" y1="1458.62" x2="234" y2="1458.62" stroke="#000" stroke-width="1.8"/>
<rect x="247.3" y="1302.23" width="14.4" height="185.57" fill="#ff2a00" stroke="#000" stroke-width="1.6"/>
<line x1="254.5" y1="1297.17" x2="254.5" y2="1305.68" stroke="#000" stroke-width="1.8"/>
<line x1="250" y1="1297.17" x2="259" y2="1297.17" stroke="#000" stroke-width="1.8"/>
<line x1="250" y1="1305.68" x2="259" y2="1305.68" stroke="#000" stroke-width="1.8"/>
<rect x="289.3" y="1479.29" width="14.9" height="8.51" fill="#231815" stroke="#000" stroke-width="1.6"/>
<line x1="296.75" y1="1475.65" x2="296.75" y2="1478.49" stroke="#000" stroke-width="1.8"/>
<line x1="292.25" y1="1475.65" x2="301.25" y2="1475.65" stroke="#000" stroke-width="1.8"/>
<rect x="314.8" y="1319.82" width="14.4" height="167.98" fill="#ff2a00" stroke="#000" stroke-width="1.6"/>
<line x1="322" y1="1310.51" x2="322" y2="1327.53" stroke="#000" stroke-width="1.8"/>
<line x1="317.5" y1="1310.51" x2="326.5" y2="1310.51" stroke="#000" stroke-width="1.8"/>
<line x1="317.5" y1="1327.53" x2="326.5" y2="1327.53" stroke="#000" stroke-width="1.8"/>
<line x1="135.2" y1="1258" x2="135.2" y2="1489" stroke="#000" stroke-width="4"/>
<line x1="125.7" y1="1487" x2="357.5" y2="1487" stroke="#000" stroke-width="4"/>
<text x="120.3" y="1496.74" font-size="27.2" class="k" text-anchor="end" textLength="15.13" lengthAdjust="spacingAndGlyphs">0</text>
<line x1="125.7" y1="1430.25" x2="135.2" y2="1430.25" stroke="#000" stroke-width="4"/>
<text x="120.3" y="1439.99" font-size="27.2" class="k" text-anchor="end" textLength="30.26" lengthAdjust="spacingAndGlyphs">20</text>
<line x1="125.7" y1="1373.5" x2="135.2" y2="1373.5" stroke="#000" stroke-width="4"/>
<text x="120.3" y="1383.24" font-size="27.2" class="k" text-anchor="end" textLength="30.26" lengthAdjust="spacingAndGlyphs">40</text>
<line x1="125.7" y1="1316.75" x2="135.2" y2="1316.75" stroke="#000" stroke-width="4"/>
<text x="120.3" y="1326.49" font-size="27.2" class="k" text-anchor="end" textLength="30.26" lengthAdjust="spacingAndGlyphs">60</text>
<line x1="125.7" y1="1260" x2="135.2" y2="1260" stroke="#000" stroke-width="4"/>
<text x="120.3" y="1269.74" font-size="27.2" class="k" text-anchor="end" textLength="30.26" lengthAdjust="spacingAndGlyphs">80</text>
<circle cx="156.5" cy="1466.29" r="4.3" fill="#fff" stroke="#000" stroke-width="2.1"/>
<circle cx="156.5" cy="1478.49" r="4.3" fill="#fff" stroke="#000" stroke-width="2.1"/>
<circle cx="164.5" cy="1474.23" r="4.3" fill="#fff" stroke="#000" stroke-width="2.1"/>
<circle cx="181.75" cy="1479.91" r="4.3" fill="#fff" stroke="#000" stroke-width="2.1"/>
<circle cx="187.75" cy="1474.23" r="4.3" fill="#fff" stroke="#000" stroke-width="2.1"/>
<circle cx="191.75" cy="1478.49" r="4.3" fill="#fff" stroke="#000" stroke-width="2.1"/>
<circle cx="229.5" cy="1455.79" r="4.3" fill="#fff" stroke="#000" stroke-width="2.1"/>
<circle cx="225.5" cy="1477.07" r="4.3" fill="#fff" stroke="#000" stroke-width="2.1"/>
<circle cx="233.5" cy="1475.65" r="4.3" fill="#fff" stroke="#000" stroke-width="2.1"/>
<circle cx="250.5" cy="1298.31" r="4.3" fill="#fff" stroke="#000" stroke-width="2.1"/>
<circle cx="259.5" cy="1299.16" r="4.3" fill="#fff" stroke="#000" stroke-width="2.1"/>
<circle cx="254.5" cy="1308.24" r="4.3" fill="#fff" stroke="#000" stroke-width="2.1"/>
<circle cx="291.75" cy="1477.07" r="4.3" fill="#fff" stroke="#000" stroke-width="2.1"/>
<circle cx="296.75" cy="1474.8" r="4.3" fill="#fff" stroke="#000" stroke-width="2.1"/>
<circle cx="301.75" cy="1476.22" r="4.3" fill="#fff" stroke="#000" stroke-width="2.1"/>
<circle cx="322" cy="1305.97" r="4.3" fill="#fff" stroke="#000" stroke-width="2.1"/>
<circle cx="318" cy="1323.84" r="4.3" fill="#fff" stroke="#000" stroke-width="2.1"/>
<circle cx="326" cy="1319.59" r="4.3" fill="#fff" stroke="#000" stroke-width="2.1"/>
<text x="172.5" y="1257.5" font-size="26" class="k" text-anchor="middle" textLength="30.34" lengthAdjust="spacingAndGlyphs">ns</text>
<line x1="159" y1="1270" x2="184.5" y2="1270" stroke="#120c0a" stroke-width="4" stroke-linecap="round"/>
<text x="243.5" y="1266.7" font-size="25.5" class="k" text-anchor="middle" textLength="40.48" lengthAdjust="spacingAndGlyphs" style="font-weight:normal;stroke-width:0.6px">****</text>
<line x1="228" y1="1270" x2="253.5" y2="1270" stroke="#120c0a" stroke-width="4" stroke-linecap="round"/>
<text x="293.5" y="1257.5" font-size="26" class="k" text-anchor="middle" textLength="30.34" lengthAdjust="spacingAndGlyphs">ns</text>
<line x1="259" y1="1270" x2="322" y2="1270" stroke="#120c0a" stroke-width="4" stroke-linecap="round"/>
<text x="310" y="1293.2" font-size="25.5" class="k" text-anchor="middle" textLength="40.48" lengthAdjust="spacingAndGlyphs" style="font-weight:normal;stroke-width:0.6px">****</text>
<line x1="296.5" y1="1292.5" x2="322" y2="1292.5" stroke="#120c0a" stroke-width="4" stroke-linecap="round"/>
<text x="174" y="1514" font-size="26" class="k" text-anchor="middle" textLength="25.98" lengthAdjust="spacingAndGlyphs">(-)</text>
<text x="243.5" y="1514" font-size="26" class="k" text-anchor="middle" textLength="25.98" lengthAdjust="spacingAndGlyphs">(-)</text>
<text x="291.5" y="1514" font-size="26" class="k" textLength="47.7" lengthAdjust="spacingAndGlyphs">Nec</text>
<line x1="147.5" y1="1526" x2="206.5" y2="1526" stroke="#120c0a" stroke-width="4"/>
<line x1="235" y1="1526" x2="332.5" y2="1526" stroke="#120c0a" stroke-width="4"/>
<text x="173.5" y="1556.5" font-size="26" class="k" text-anchor="middle" textLength="14.46" lengthAdjust="spacingAndGlyphs">0</text>
<text x="196.5" y="1556.5" font-size="26" class="k" textLength="216.46" lengthAdjust="spacingAndGlyphs">TNF(10)/BV6(0.1)</text>
<rect x="358.25" y="1360.75" width="18.5" height="15.5" fill="#231815" stroke="#000" stroke-width="1.5"/>
<rect x="358.25" y="1390.75" width="18.5" height="15.5" fill="#e60012" stroke="#231815" stroke-width="1.5"/>
<text x="386.5" y="1377.5" font-size="26" class="k" textLength="40.42" lengthAdjust="spacingAndGlyphs">WT</text>
<text x="386.5" y="1407.8" font-size="26" class="k" textLength="108.34" lengthAdjust="spacingAndGlyphs"><tspan font-style="italic">MIB2</tspan> KO</text>
<text x="37" y="1729" font-size="36" textLength="10" lengthAdjust="spacingAndGlyphs">i</text>
<rect x="268.15" y="1738.75" width="18.5" height="15.5" fill="#231815" stroke="#000" stroke-width="1.5"/>
<rect x="268.15" y="1769.15" width="18.5" height="15.5" fill="#e60012" stroke="#231815" stroke-width="1.5"/>
<text x="297.4" y="1756.3" font-size="26" class="k" textLength="111.23" lengthAdjust="spacingAndGlyphs">WT HeLa</text>
<text x="297.4" y="1787.2" font-size="26" class="k" textLength="179.15" lengthAdjust="spacingAndGlyphs"><tspan font-style="italic">MIB2</tspan> KO HeLa</text>
<text x="92" y="2039" font-size="26" class="k" textLength="197.96" lengthAdjust="spacingAndGlyphs" transform="rotate(-90 92 2039)">LDH release (%)</text>
<rect x="161.3" y="2037.59" width="14.2" height="25.81" fill="#231815" stroke="#000" stroke-width="1.6"/>
<line x1="168.4" y1="2033.92" x2="168.4" y2="2036.79" stroke="#000" stroke-width="1.8"/>
<line x1="163.9" y1="2033.92" x2="172.9" y2="2033.92" stroke="#000" stroke-width="1.8"/>
<rect x="186.6" y="2039.31" width="14.2" height="24.09" fill="#ff2a00" stroke="#000" stroke-width="1.6"/>
<line x1="193.7" y1="2035.64" x2="193.7" y2="2041.38" stroke="#000" stroke-width="1.8"/>
<line x1="189.2" y1="2035.64" x2="198.2" y2="2035.64" stroke="#000" stroke-width="1.8"/>
<line x1="189.2" y1="2041.38" x2="198.2" y2="2041.38" stroke="#000" stroke-width="1.8"/>
<rect x="229.8" y="2036.44" width="14.1" height="26.96" fill="#231815" stroke="#000" stroke-width="1.6"/>
<line x1="236.85" y1="2029.33" x2="236.85" y2="2035.64" stroke="#000" stroke-width="1.8"/>
<line x1="232.35" y1="2029.33" x2="241.35" y2="2029.33" stroke="#000" stroke-width="1.8"/>
<rect x="255" y="2006.04" width="14.2" height="57.36" fill="#ff2a00" stroke="#000" stroke-width="1.6"/>
<line x1="262.1" y1="1995.78" x2="262.1" y2="2014.7" stroke="#000" stroke-width="1.8"/>
<line x1="257.6" y1="1995.78" x2="266.6" y2="1995.78" stroke="#000" stroke-width="1.8"/>
<line x1="257.6" y1="2014.7" x2="266.6" y2="2014.7" stroke="#000" stroke-width="1.8"/>
<rect x="298.2" y="2037.59" width="14.2" height="25.81" fill="#231815" stroke="#000" stroke-width="1.6"/>
<line x1="305.3" y1="2026.75" x2="305.3" y2="2036.79" stroke="#000" stroke-width="1.8"/>
<line x1="300.8" y1="2026.75" x2="309.8" y2="2026.75" stroke="#000" stroke-width="1.8"/>
<rect x="324.5" y="2002.31" width="14.2" height="61.09" fill="#ff2a00" stroke="#000" stroke-width="1.6"/>
<line x1="331.6" y1="1997.21" x2="331.6" y2="2005.81" stroke="#000" stroke-width="1.8"/>
<line x1="327.1" y1="1997.21" x2="336.1" y2="1997.21" stroke="#000" stroke-width="1.8"/>
<line x1="327.1" y1="2005.81" x2="336.1" y2="2005.81" stroke="#000" stroke-width="1.8"/>
<rect x="366.6" y="1998.01" width="14.2" height="65.39" fill="#231815" stroke="#000" stroke-width="1.6"/>
<line x1="373.7" y1="1993.77" x2="373.7" y2="1997.21" stroke="#000" stroke-width="1.8"/>
<line x1="369.2" y1="1993.77" x2="378.2" y2="1993.77" stroke="#000" stroke-width="1.8"/>
<rect x="392.9" y="1950.69" width="14.2" height="112.71" fill="#ff2a00" stroke="#000" stroke-width="1.6"/>
<line x1="400" y1="1937.56" x2="400" y2="1962.22" stroke="#000" stroke-width="1.8"/>
<line x1="395.5" y1="1937.56" x2="404.5" y2="1937.56" stroke="#000" stroke-width="1.8"/>
<line x1="395.5" y1="1962.22" x2="404.5" y2="1962.22" stroke="#000" stroke-width="1.8"/>
<rect x="435" y="2006.04" width="15.2" height="57.36" fill="#231815" stroke="#000" stroke-width="1.6"/>
<line x1="442.6" y1="2001.8" x2="442.6" y2="2005.24" stroke="#000" stroke-width="1.8"/>
<line x1="438.1" y1="2001.8" x2="447.1" y2="2001.8" stroke="#000" stroke-width="1.8"/>
<rect x="461.3" y="1946.96" width="14.2" height="116.44" fill="#ff2a00" stroke="#000" stroke-width="1.6"/>
<line x1="468.4" y1="1941.86" x2="468.4" y2="1950.46" stroke="#000" stroke-width="1.8"/>
<line x1="463.9" y1="1941.86" x2="472.9" y2="1941.86" stroke="#000" stroke-width="1.8"/>
<line x1="463.9" y1="1950.46" x2="472.9" y2="1950.46" stroke="#000" stroke-width="1.8"/>
<rect x="503.4" y="1909.68" width="14.2" height="153.72" fill="#231815" stroke="#000" stroke-width="1.6"/>
<line x1="510.5" y1="1904.57" x2="510.5" y2="1908.88" stroke="#000" stroke-width="1.8"/>
<line x1="506" y1="1904.57" x2="515" y2="1904.57" stroke="#000" stroke-width="1.8"/>
<rect x="529.8" y="1899.92" width="15.2" height="163.48" fill="#ff2a00" stroke="#000" stroke-width="1.6"/>
<line x1="537.4" y1="1890.52" x2="537.4" y2="1907.73" stroke="#000" stroke-width="1.8"/>
<line x1="532.9" y1="1890.52" x2="541.9" y2="1890.52" stroke="#000" stroke-width="1.8"/>
<line x1="532.9" y1="1907.73" x2="541.9" y2="1907.73" stroke="#000" stroke-width="1.8"/>
<rect x="572.9" y="1908.53" width="14.2" height="154.87" fill="#231815" stroke="#000" stroke-width="1.6"/>
<line x1="580" y1="1900.56" x2="580" y2="1907.73" stroke="#000" stroke-width="1.8"/>
<line x1="575.5" y1="1900.56" x2="584.5" y2="1900.56" stroke="#000" stroke-width="1.8"/>
<rect x="598.2" y="1899.92" width="15.2" height="163.48" fill="#ff2a00" stroke="#000" stroke-width="1.6"/>
<line x1="605.8" y1="1890.52" x2="605.8" y2="1907.73" stroke="#000" stroke-width="1.8"/>
<line x1="601.3" y1="1890.52" x2="610.3" y2="1890.52" stroke="#000" stroke-width="1.8"/>
<line x1="601.3" y1="1907.73" x2="610.3" y2="1907.73" stroke="#000" stroke-width="1.8"/>
<line x1="150.4" y1="1831.16" x2="150.4" y2="2064.6" stroke="#000" stroke-width="4"/>
<line x1="139.1" y1="2062.6" x2="638.4" y2="2062.6" stroke="#000" stroke-width="4"/>
<text x="135.8" y="2072.34" font-size="27.2" class="k" text-anchor="end" textLength="15.13" lengthAdjust="spacingAndGlyphs">0</text>
<line x1="139.1" y1="2005.24" x2="150.4" y2="2005.24" stroke="#000" stroke-width="4"/>
<text x="135.8" y="2014.98" font-size="27.2" class="k" text-anchor="end" textLength="30.26" lengthAdjust="spacingAndGlyphs">20</text>
<line x1="139.1" y1="1947.88" x2="150.4" y2="1947.88" stroke="#000" stroke-width="4"/>
<text x="135.8" y="1957.62" font-size="27.2" class="k" text-anchor="end" textLength="30.26" lengthAdjust="spacingAndGlyphs">40</text>
<line x1="139.1" y1="1890.52" x2="150.4" y2="1890.52" stroke="#000" stroke-width="4"/>
<text x="135.8" y="1900.26" font-size="27.2" class="k" text-anchor="end" textLength="30.26" lengthAdjust="spacingAndGlyphs">60</text>
<line x1="139.1" y1="1833.16" x2="150.4" y2="1833.16" stroke="#000" stroke-width="4"/>
<text x="135.8" y="1842.9" font-size="27.2" class="k" text-anchor="end" textLength="30.26" lengthAdjust="spacingAndGlyphs">80</text>
<circle cx="165.4" cy="2034.49" r="4.3" fill="#fff" stroke="#000" stroke-width="2.1"/>
<circle cx="169.4" cy="2030.19" r="4.3" fill="#fff" stroke="#000" stroke-width="2.1"/>
<circle cx="173.4" cy="2035.35" r="4.3" fill="#fff" stroke="#000" stroke-width="2.1"/>
<circle cx="190.7" cy="2038.22" r="4.3" fill="#fff" stroke="#000" stroke-width="2.1"/>
<circle cx="194.7" cy="2033.35" r="4.3" fill="#fff" stroke="#000" stroke-width="2.1"/>
<circle cx="198.7" cy="2035.35" r="4.3" fill="#fff" stroke="#000" stroke-width="2.1"/>
<circle cx="233.85" cy="2029.62" r="4.3" fill="#fff" stroke="#000" stroke-width="2.1"/>
<circle cx="233.85" cy="2041.09" r="4.3" fill="#fff" stroke="#000" stroke-width="2.1"/>
<circle cx="241.85" cy="2034.49" r="4.3" fill="#fff" stroke="#000" stroke-width="2.1"/>
<circle cx="262.1" cy="1993.77" r="4.3" fill="#fff" stroke="#000" stroke-width="2.1"/>
<circle cx="259.1" cy="2010.98" r="4.3" fill="#fff" stroke="#000" stroke-width="2.1"/>
<circle cx="267.1" cy="2006.67" r="4.3" fill="#fff" stroke="#000" stroke-width="2.1"/>
<circle cx="305.3" cy="2023.88" r="4.3" fill="#fff" stroke="#000" stroke-width="2.1"/>
<circle cx="302.3" cy="2036.79" r="4.3" fill="#fff" stroke="#000" stroke-width="2.1"/>
<circle cx="309.3" cy="2036.79" r="4.3" fill="#fff" stroke="#000" stroke-width="2.1"/>
<circle cx="331.6" cy="1995.2" r="4.3" fill="#fff" stroke="#000" stroke-width="2.1"/>
<circle cx="327.6" cy="2002.37" r="4.3" fill="#fff" stroke="#000" stroke-width="2.1"/>
<circle cx="336.6" cy="2000.08" r="4.3" fill="#fff" stroke="#000" stroke-width="2.1"/>
<circle cx="369.7" cy="1999.5" r="4.3" fill="#fff" stroke="#000" stroke-width="2.1"/>
<circle cx="373.7" cy="1993.77" r="4.3" fill="#fff" stroke="#000" stroke-width="2.1"/>
<circle cx="378.7" cy="1994.63" r="4.3" fill="#fff" stroke="#000" stroke-width="2.1"/>
<circle cx="400" cy="1935.55" r="4.3" fill="#fff" stroke="#000" stroke-width="2.1"/>
<circle cx="400" cy="1949.31" r="4.3" fill="#fff" stroke="#000" stroke-width="2.1"/>
<circle cx="400" cy="1963.65" r="4.3" fill="#fff" stroke="#000" stroke-width="2.1"/>
<circle cx="438.6" cy="2005.24" r="4.3" fill="#fff" stroke="#000" stroke-width="2.1"/>
<circle cx="442.6" cy="2000.08" r="4.3" fill="#fff" stroke="#000" stroke-width="2.1"/>
<circle cx="447.6" cy="2004.67" r="4.3" fill="#fff" stroke="#000" stroke-width="2.1"/>
<circle cx="465.4" cy="1941.28" r="4.3" fill="#fff" stroke="#000" stroke-width="2.1"/>
<circle cx="465.4" cy="1951.32" r="4.3" fill="#fff" stroke="#000" stroke-width="2.1"/>
<circle cx="473.4" cy="1947.02" r="4.3" fill="#fff" stroke="#000" stroke-width="2.1"/>
<circle cx="506.5" cy="1903.43" r="4.3" fill="#fff" stroke="#000" stroke-width="2.1"/>
<circle cx="510.5" cy="1912.03" r="4.3" fill="#fff" stroke="#000" stroke-width="2.1"/>
<circle cx="515.5" cy="1907.73" r="4.3" fill="#fff" stroke="#000" stroke-width="2.1"/>
<circle cx="534.4" cy="1891.09" r="4.3" fill="#fff" stroke="#000" stroke-width="2.1"/>
<circle cx="542.4" cy="1891.09" r="4.3" fill="#fff" stroke="#000" stroke-width="2.1"/>
<circle cx="537.4" cy="1910.6" r="4.3" fill="#fff" stroke="#000" stroke-width="2.1"/>
<circle cx="576" cy="1900.56" r="4.3" fill="#fff" stroke="#000" stroke-width="2.1"/>
<circle cx="585" cy="1902.57" r="4.3" fill="#fff" stroke="#000" stroke-width="2.1"/>
<circle cx="580" cy="1916.33" r="4.3" fill="#fff" stroke="#000" stroke-width="2.1"/>
<circle cx="602.8" cy="1891.09" r="4.3" fill="#fff" stroke="#000" stroke-width="2.1"/>
<circle cx="610.8" cy="1891.09" r="4.3" fill="#fff" stroke="#000" stroke-width="2.1"/>
<circle cx="605.8" cy="1910.6" r="4.3" fill="#fff" stroke="#000" stroke-width="2.1"/>
<text x="181.6" y="1897.4" font-size="26" class="k" text-anchor="middle" textLength="30.34" lengthAdjust="spacingAndGlyphs">ns</text>
<line x1="169.9" y1="1912.6" x2="201.1" y2="1912.6" stroke="#120c0a" stroke-width="4" stroke-linecap="round"/>
<text x="246.3" y="1867.7" font-size="25.5" class="k" text-anchor="middle" textLength="30.36" lengthAdjust="spacingAndGlyphs" style="font-weight:normal;stroke-width:0.6px">***</text>
<line x1="231.5" y1="1870" x2="260.1" y2="1870" stroke="#120c0a" stroke-width="4" stroke-linecap="round"/>
<text x="305.3" y="1862" font-size="26" class="k" text-anchor="middle" textLength="30.34" lengthAdjust="spacingAndGlyphs">ns</text>
<line x1="273.6" y1="1870" x2="334.3" y2="1870" stroke="#120c0a" stroke-width="4" stroke-linecap="round"/>
<text x="314.2" y="1912.7" font-size="25.5" class="k" text-anchor="middle" textLength="30.36" lengthAdjust="spacingAndGlyphs" style="font-weight:normal;stroke-width:0.6px">***</text>
<line x1="299.9" y1="1915.8" x2="331.1" y2="1915.8" stroke="#120c0a" stroke-width="4" stroke-linecap="round"/>
<text x="377.9" y="1867.7" font-size="25.5" class="k" text-anchor="middle" textLength="40.48" lengthAdjust="spacingAndGlyphs" style="font-weight:normal;stroke-width:0.6px">****</text>
<line x1="362" y1="1870" x2="393.2" y2="1870" stroke="#120c0a" stroke-width="4" stroke-linecap="round"/>
<text x="439.5" y="1862" font-size="26" class="k" text-anchor="middle" textLength="30.34" lengthAdjust="spacingAndGlyphs">ns</text>
<line x1="404.1" y1="1870" x2="470.6" y2="1870" stroke="#120c0a" stroke-width="4" stroke-linecap="round"/>
<text x="455.3" y="1909.7" font-size="25.5" class="k" text-anchor="middle" textLength="40.48" lengthAdjust="spacingAndGlyphs" style="font-weight:normal;stroke-width:0.6px">****</text>
<line x1="438.3" y1="1915.8" x2="470.6" y2="1915.8" stroke="#120c0a" stroke-width="4" stroke-linecap="round"/>
<text x="518.4" y="1830.5" font-size="26" class="k" text-anchor="middle" textLength="30.34" lengthAdjust="spacingAndGlyphs">ns</text>
<line x1="502.5" y1="1842" x2="533.8" y2="1842" stroke="#120c0a" stroke-width="4" stroke-linecap="round"/>
<text x="572.1" y="1830.5" font-size="26" class="k" text-anchor="middle" textLength="30.34" lengthAdjust="spacingAndGlyphs">ns</text>
<line x1="544.7" y1="1842" x2="603.8" y2="1842" stroke="#120c0a" stroke-width="4" stroke-linecap="round"/>
<text x="585.3" y="1862" font-size="26" class="k" text-anchor="middle" textLength="30.34" lengthAdjust="spacingAndGlyphs">ns</text>
<line x1="572.5" y1="1870" x2="603.8" y2="1870" stroke="#120c0a" stroke-width="4" stroke-linecap="round"/>
<text x="179" y="2093.7" font-size="26" class="k" text-anchor="middle" textLength="25.98" lengthAdjust="spacingAndGlyphs">(-)</text>
<text x="246.3" y="2093.7" font-size="26" class="k" text-anchor="middle" textLength="25.98" lengthAdjust="spacingAndGlyphs">(-)</text>
<text x="291" y="2093.7" font-size="26" class="k" textLength="47.7" lengthAdjust="spacingAndGlyphs">Nec</text>
<text x="385.8" y="2093.7" font-size="26" class="k" text-anchor="middle" textLength="25.98" lengthAdjust="spacingAndGlyphs">(-)</text>
<text x="429" y="2093.7" font-size="26" class="k" textLength="47.7" lengthAdjust="spacingAndGlyphs">Nec</text>
<text x="524.7" y="2093.7" font-size="26" class="k" text-anchor="middle" textLength="25.98" lengthAdjust="spacingAndGlyphs">(-)</text>
<text x="567.4" y="2093.7" font-size="26" class="k" textLength="47.7" lengthAdjust="spacingAndGlyphs">Nec</text>
<line x1="147.4" y1="2106.3" x2="206.3" y2="2106.3" stroke="#120c0a" stroke-width="4"/>
<line x1="231.6" y1="2106.3" x2="329" y2="2106.3" stroke="#120c0a" stroke-width="4"/>
<line x1="373.7" y1="2106.3" x2="471" y2="2106.3" stroke="#120c0a" stroke-width="4"/>
<line x1="513.2" y1="2106.3" x2="610.5" y2="2106.3" stroke="#120c0a" stroke-width="4"/>
<text x="177.9" y="2135.8" font-size="26" class="k" text-anchor="middle" textLength="14.46" lengthAdjust="spacingAndGlyphs">0</text>
<text x="273.7" y="2135.8" font-size="26" class="k" text-anchor="middle" textLength="14.46" lengthAdjust="spacingAndGlyphs">1</text>
<text x="417.4" y="2135.8" font-size="26" class="k" text-anchor="middle" textLength="14.46" lengthAdjust="spacingAndGlyphs">3</text>
<text x="557.9" y="2135.8" font-size="26" class="k" text-anchor="middle" textLength="28.92" lengthAdjust="spacingAndGlyphs">10</text>
<text x="586.8" y="2135.8" font-size="26" class="k" textLength="86.65" lengthAdjust="spacingAndGlyphs">(ng/ml)</text>
<line x1="273.7" y1="2145.8" x2="567.4" y2="2145.8" stroke="#120c0a" stroke-width="4"/>
<text x="354" y="2175.8" font-size="26" textLength="117.33" lengthAdjust="spacingAndGlyphs">TNF/CHX</text>
<text x="645" y="1729" font-size="36" textLength="10" lengthAdjust="spacingAndGlyphs">j</text>
<rect x="873.95" y="1738.75" width="18.5" height="15.5" fill="#231815" stroke="#000" stroke-width="1.5"/>
<rect x="873.95" y="1769.15" width="18.5" height="15.5" fill="#e60012" stroke="#231815" stroke-width="1.5"/>
<text x="902.6" y="1756" font-size="26" class="k" textLength="143.03" lengthAdjust="spacingAndGlyphs">WT HCT116</text>
<text x="902.6" y="1786.7" font-size="26" class="k" textLength="210.95" lengthAdjust="spacingAndGlyphs"><tspan font-style="italic">MIB2</tspan> KO HCT116</text>
<text x="723.6" y="2027.8" font-size="26" class="k" textLength="197.96" lengthAdjust="spacingAndGlyphs" transform="rotate(-90 723.6 2027.8)">LDH release (%)</text>
<rect x="788.7" y="2053.46" width="14.2" height="9.94" fill="#231815" stroke="#000" stroke-width="1.6"/>
<line x1="795.8" y1="2049.82" x2="795.8" y2="2052.66" stroke="#000" stroke-width="1.8"/>
<line x1="791.3" y1="2049.82" x2="800.3" y2="2049.82" stroke="#000" stroke-width="1.8"/>
<rect x="815" y="2052.32" width="14.2" height="11.08" fill="#ff2a00" stroke="#000" stroke-width="1.6"/>
<line x1="822.1" y1="2048.68" x2="822.1" y2="2054.36" stroke="#000" stroke-width="1.8"/>
<line x1="817.6" y1="2048.68" x2="826.6" y2="2048.68" stroke="#000" stroke-width="1.8"/>
<line x1="817.6" y1="2054.36" x2="826.6" y2="2054.36" stroke="#000" stroke-width="1.8"/>
<rect x="857.1" y="2054.6" width="14.2" height="8.8" fill="#231815" stroke="#000" stroke-width="1.6"/>
<line x1="864.2" y1="2048.12" x2="864.2" y2="2053.8" stroke="#000" stroke-width="1.8"/>
<line x1="859.7" y1="2048.12" x2="868.7" y2="2048.12" stroke="#000" stroke-width="1.8"/>
<rect x="883.4" y="1896.69" width="14.2" height="166.71" fill="#ff2a00" stroke="#000" stroke-width="1.6"/>
<line x1="890.5" y1="1893.05" x2="890.5" y2="1898.73" stroke="#000" stroke-width="1.8"/>
<line x1="886" y1="1893.05" x2="895" y2="1893.05" stroke="#000" stroke-width="1.8"/>
<line x1="886" y1="1898.73" x2="895" y2="1898.73" stroke="#000" stroke-width="1.8"/>
<rect x="925.5" y="2059.14" width="14.2" height="4.26" fill="#231815" stroke="#000" stroke-width="1.6"/>
<line x1="932.6" y1="2057.49" x2="932.6" y2="2058.34" stroke="#000" stroke-width="1.8"/>
<line x1="928.1" y1="2057.49" x2="937.1" y2="2057.49" stroke="#000" stroke-width="1.8"/>
<rect x="951.8" y="1906.06" width="14.2" height="157.34" fill="#ff2a00" stroke="#000" stroke-width="1.6"/>
<line x1="958.9" y1="1901" x2="958.9" y2="1909.52" stroke="#000" stroke-width="1.8"/>
<line x1="954.4" y1="1901" x2="963.4" y2="1901" stroke="#000" stroke-width="1.8"/>
<line x1="954.4" y1="1909.52" x2="963.4" y2="1909.52" stroke="#000" stroke-width="1.8"/>
<rect x="994" y="1899.82" width="14.1" height="163.58" fill="#231815" stroke="#000" stroke-width="1.6"/>
<line x1="1001.05" y1="1896.74" x2="1001.05" y2="1899.02" stroke="#000" stroke-width="1.8"/>
<line x1="996.55" y1="1896.74" x2="1005.55" y2="1896.74" stroke="#000" stroke-width="1.8"/>
<rect x="1019.2" y="1891.86" width="14.2" height="171.54" fill="#ff2a00" stroke="#000" stroke-width="1.6"/>
<line x1="1026.3" y1="1885.38" x2="1026.3" y2="1896.74" stroke="#000" stroke-width="1.8"/>
<line x1="1021.8" y1="1885.38" x2="1030.8" y2="1885.38" stroke="#000" stroke-width="1.8"/>
<line x1="1021.8" y1="1896.74" x2="1030.8" y2="1896.74" stroke="#000" stroke-width="1.8"/>
<rect x="1061.3" y="1897.26" width="14.2" height="166.14" fill="#231815" stroke="#000" stroke-width="1.6"/>
<line x1="1068.4" y1="1889.36" x2="1068.4" y2="1896.46" stroke="#000" stroke-width="1.8"/>
<line x1="1063.9" y1="1889.36" x2="1072.9" y2="1889.36" stroke="#000" stroke-width="1.8"/>
<rect x="1087.6" y="1886.18" width="14.2" height="177.22" fill="#ff2a00" stroke="#000" stroke-width="1.6"/>
<line x1="1094.7" y1="1876.86" x2="1094.7" y2="1893.9" stroke="#000" stroke-width="1.8"/>
<line x1="1090.2" y1="1876.86" x2="1099.2" y2="1876.86" stroke="#000" stroke-width="1.8"/>
<line x1="1090.2" y1="1893.9" x2="1099.2" y2="1893.9" stroke="#000" stroke-width="1.8"/>
<rect x="1129.7" y="1886.18" width="14.2" height="177.22" fill="#231815" stroke="#000" stroke-width="1.6"/>
<line x1="1136.8" y1="1880.27" x2="1136.8" y2="1885.38" stroke="#000" stroke-width="1.8"/>
<line x1="1132.3" y1="1880.27" x2="1141.3" y2="1880.27" stroke="#000" stroke-width="1.8"/>
<rect x="1156.1" y="1895.84" width="14.1" height="167.56" fill="#ff2a00" stroke="#000" stroke-width="1.6"/>
<line x1="1163.15" y1="1888.51" x2="1163.15" y2="1901.57" stroke="#000" stroke-width="1.8"/>
<line x1="1158.65" y1="1888.51" x2="1167.65" y2="1888.51" stroke="#000" stroke-width="1.8"/>
<line x1="1158.65" y1="1901.57" x2="1167.65" y2="1901.57" stroke="#000" stroke-width="1.8"/>
<rect x="1199.2" y="1903.51" width="14.2" height="159.89" fill="#231815" stroke="#000" stroke-width="1.6"/>
<line x1="1206.3" y1="1891.35" x2="1206.3" y2="1902.71" stroke="#000" stroke-width="1.8"/>
<line x1="1201.8" y1="1891.35" x2="1210.8" y2="1891.35" stroke="#000" stroke-width="1.8"/>
<rect x="1224.5" y="1886.75" width="14.2" height="176.65" fill="#ff2a00" stroke="#000" stroke-width="1.6"/>
<line x1="1231.6" y1="1876.01" x2="1231.6" y2="1895.89" stroke="#000" stroke-width="1.8"/>
<line x1="1227.1" y1="1876.01" x2="1236.1" y2="1876.01" stroke="#000" stroke-width="1.8"/>
<line x1="1227.1" y1="1895.89" x2="1236.1" y2="1895.89" stroke="#000" stroke-width="1.8"/>
<line x1="778.6" y1="1833.4" x2="778.6" y2="2064.6" stroke="#000" stroke-width="4"/>
<line x1="767.1" y1="2062.6" x2="1268.4" y2="2062.6" stroke="#000" stroke-width="4"/>
<text x="762" y="2072.34" font-size="27.2" class="k" text-anchor="end" textLength="15.13" lengthAdjust="spacingAndGlyphs">0</text>
<line x1="767.1" y1="2005.8" x2="778.6" y2="2005.8" stroke="#000" stroke-width="4"/>
<text x="762" y="2015.54" font-size="27.2" class="k" text-anchor="end" textLength="30.26" lengthAdjust="spacingAndGlyphs">20</text>
<line x1="767.1" y1="1949" x2="778.6" y2="1949" stroke="#000" stroke-width="4"/>
<text x="762" y="1958.74" font-size="27.2" class="k" text-anchor="end" textLength="30.26" lengthAdjust="spacingAndGlyphs">40</text>
<line x1="767.1" y1="1892.2" x2="778.6" y2="1892.2" stroke="#000" stroke-width="4"/>
<text x="762" y="1901.94" font-size="27.2" class="k" text-anchor="end" textLength="30.26" lengthAdjust="spacingAndGlyphs">60</text>
<line x1="767.1" y1="1835.4" x2="778.6" y2="1835.4" stroke="#000" stroke-width="4"/>
<text x="762" y="1845.14" font-size="27.2" class="k" text-anchor="end" textLength="30.26" lengthAdjust="spacingAndGlyphs">80</text>
<circle cx="791.8" cy="2051.81" r="4.3" fill="#fff" stroke="#000" stroke-width="2.1"/>
<circle cx="795.8" cy="2048.4" r="4.3" fill="#fff" stroke="#000" stroke-width="2.1"/>
<circle cx="800.8" cy="2050.39" r="4.3" fill="#fff" stroke="#000" stroke-width="2.1"/>
<circle cx="818.1" cy="2051.81" r="4.3" fill="#fff" stroke="#000" stroke-width="2.1"/>
<circle cx="822.1" cy="2047.55" r="4.3" fill="#fff" stroke="#000" stroke-width="2.1"/>
<circle cx="827.1" cy="2048.97" r="4.3" fill="#fff" stroke="#000" stroke-width="2.1"/>
<circle cx="860.2" cy="2047.55" r="4.3" fill="#fff" stroke="#000" stroke-width="2.1"/>
<circle cx="869.2" cy="2051.24" r="4.3" fill="#fff" stroke="#000" stroke-width="2.1"/>
<circle cx="864.2" cy="2060.33" r="4.3" fill="#fff" stroke="#000" stroke-width="2.1"/>
<circle cx="886.5" cy="1896.46" r="4.3" fill="#fff" stroke="#000" stroke-width="2.1"/>
<circle cx="890.5" cy="1892.2" r="4.3" fill="#fff" stroke="#000" stroke-width="2.1"/>
<circle cx="895.5" cy="1894.19" r="4.3" fill="#fff" stroke="#000" stroke-width="2.1"/>
<circle cx="928.6" cy="2058.34" r="4.3" fill="#fff" stroke="#000" stroke-width="2.1"/>
<circle cx="932.6" cy="2057.49" r="4.3" fill="#fff" stroke="#000" stroke-width="2.1"/>
<circle cx="936.6" cy="2057.49" r="4.3" fill="#fff" stroke="#000" stroke-width="2.1"/>
<circle cx="958.9" cy="1899.3" r="4.3" fill="#fff" stroke="#000" stroke-width="2.1"/>
<circle cx="954.9" cy="1906.4" r="4.3" fill="#fff" stroke="#000" stroke-width="2.1"/>
<circle cx="963.9" cy="1904.98" r="4.3" fill="#fff" stroke="#000" stroke-width="2.1"/>
<circle cx="997.05" cy="1899.3" r="4.3" fill="#fff" stroke="#000" stroke-width="2.1"/>
<circle cx="1001.05" cy="1896.46" r="4.3" fill="#fff" stroke="#000" stroke-width="2.1"/>
<circle cx="1006.05" cy="1898.45" r="4.3" fill="#fff" stroke="#000" stroke-width="2.1"/>
<circle cx="1022.3" cy="1885.1" r="4.3" fill="#fff" stroke="#000" stroke-width="2.1"/>
<circle cx="1031.3" cy="1891.35" r="4.3" fill="#fff" stroke="#000" stroke-width="2.1"/>
<circle cx="1023.3" cy="1895.04" r="4.3" fill="#fff" stroke="#000" stroke-width="2.1"/>
<circle cx="1064.4" cy="1889.36" r="4.3" fill="#fff" stroke="#000" stroke-width="2.1"/>
<circle cx="1073.4" cy="1896.46" r="4.3" fill="#fff" stroke="#000" stroke-width="2.1"/>
<circle cx="1068.4" cy="1903.56" r="4.3" fill="#fff" stroke="#000" stroke-width="2.1"/>
<circle cx="1094.7" cy="1873.74" r="4.3" fill="#fff" stroke="#000" stroke-width="2.1"/>
<circle cx="1090.7" cy="1892.2" r="4.3" fill="#fff" stroke="#000" stroke-width="2.1"/>
<circle cx="1099.7" cy="1887.94" r="4.3" fill="#fff" stroke="#000" stroke-width="2.1"/>
<circle cx="1132.8" cy="1879.42" r="4.3" fill="#fff" stroke="#000" stroke-width="2.1"/>
<circle cx="1140.8" cy="1884.25" r="4.3" fill="#fff" stroke="#000" stroke-width="2.1"/>
<circle cx="1134.8" cy="1890.78" r="4.3" fill="#fff" stroke="#000" stroke-width="2.1"/>
<circle cx="1159.15" cy="1890.78" r="4.3" fill="#fff" stroke="#000" stroke-width="2.1"/>
<circle cx="1167.15" cy="1892.2" r="4.3" fill="#fff" stroke="#000" stroke-width="2.1"/>
<circle cx="1163.15" cy="1903.56" r="4.3" fill="#fff" stroke="#000" stroke-width="2.1"/>
<circle cx="1202.3" cy="1892.2" r="4.3" fill="#fff" stroke="#000" stroke-width="2.1"/>
<circle cx="1210.3" cy="1899.3" r="4.3" fill="#fff" stroke="#000" stroke-width="2.1"/>
<circle cx="1206.3" cy="1916.34" r="4.3" fill="#fff" stroke="#000" stroke-width="2.1"/>
<circle cx="1231.6" cy="1875.16" r="4.3" fill="#fff" stroke="#000" stroke-width="2.1"/>
<circle cx="1228.6" cy="1886.52" r="4.3" fill="#fff" stroke="#000" stroke-width="2.1"/>
<circle cx="1233.6" cy="1899.3" r="4.3" fill="#fff" stroke="#000" stroke-width="2.1"/>
<text x="817.9" y="1844.7" font-size="26" class="k" text-anchor="middle" textLength="30.34" lengthAdjust="spacingAndGlyphs">ns</text>
<line x1="802.5" y1="1856.3" x2="833.8" y2="1856.3" stroke="#120c0a" stroke-width="4" stroke-linecap="round"/>
<text x="869.5" y="1821.2" font-size="25.5" class="k" text-anchor="middle" textLength="40.48" lengthAdjust="spacingAndGlyphs" style="font-weight:normal;stroke-width:0.6px">****</text>
<line x1="851.5" y1="1821" x2="883.8" y2="1821" stroke="#120c0a" stroke-width="4" stroke-linecap="round"/>
<text x="929" y="1814.7" font-size="26" class="k" text-anchor="middle" textLength="30.34" lengthAdjust="spacingAndGlyphs">ns</text>
<line x1="894.7" y1="1821" x2="961.1" y2="1821" stroke="#120c0a" stroke-width="4" stroke-linecap="round"/>
<text x="943.2" y="1855.2" font-size="25.5" class="k" text-anchor="middle" textLength="40.48" lengthAdjust="spacingAndGlyphs" style="font-weight:normal;stroke-width:0.6px">****</text>
<line x1="926.2" y1="1856.3" x2="959" y2="1856.3" stroke="#120c0a" stroke-width="4" stroke-linecap="round"/>
<text x="1002.6" y="1814.7" font-size="26" class="k" text-anchor="middle" textLength="30.34" lengthAdjust="spacingAndGlyphs">ns</text>
<line x1="985.2" y1="1821" x2="1016.9" y2="1821" stroke="#120c0a" stroke-width="4" stroke-linecap="round"/>
<text x="1061.6" y="1814.7" font-size="26" class="k" text-anchor="middle" textLength="30.34" lengthAdjust="spacingAndGlyphs">ns</text>
<line x1="1026.2" y1="1821" x2="1091.7" y2="1821" stroke="#120c0a" stroke-width="4" stroke-linecap="round"/>
<text x="1074.7" y="1844.7" font-size="26" class="k" text-anchor="middle" textLength="30.34" lengthAdjust="spacingAndGlyphs">ns</text>
<line x1="1060.5" y1="1856.3" x2="1092.7" y2="1856.3" stroke="#120c0a" stroke-width="4" stroke-linecap="round"/>
<text x="1144.2" y="1814.7" font-size="26" class="k" text-anchor="middle" textLength="30.34" lengthAdjust="spacingAndGlyphs">ns</text>
<line x1="1128.9" y1="1821" x2="1160.1" y2="1821" stroke="#120c0a" stroke-width="4" stroke-linecap="round"/>
<text x="1194.7" y="1814.7" font-size="26" class="k" text-anchor="middle" textLength="30.34" lengthAdjust="spacingAndGlyphs">ns</text>
<line x1="1167.3" y1="1821" x2="1231.1" y2="1821" stroke="#120c0a" stroke-width="4" stroke-linecap="round"/>
<text x="1213.2" y="1844.7" font-size="26" class="k" text-anchor="middle" textLength="30.34" lengthAdjust="spacingAndGlyphs">ns</text>
<line x1="1198.9" y1="1856.3" x2="1231.1" y2="1856.3" stroke="#120c0a" stroke-width="4" stroke-linecap="round"/>
<text x="806.3" y="2093.7" font-size="26" class="k" text-anchor="middle" textLength="25.98" lengthAdjust="spacingAndGlyphs">(-)</text>
<text x="876.3" y="2093.7" font-size="26" class="k" text-anchor="middle" textLength="25.98" lengthAdjust="spacingAndGlyphs">(-)</text>
<text x="916.8" y="2093.7" font-size="26" class="k" textLength="47.7" lengthAdjust="spacingAndGlyphs">Nec</text>
<text x="1014.2" y="2093.7" font-size="26" class="k" text-anchor="middle" textLength="25.98" lengthAdjust="spacingAndGlyphs">(-)</text>
<text x="1056.3" y="2093.7" font-size="26" class="k" textLength="47.7" lengthAdjust="spacingAndGlyphs">Nec</text>
<text x="1152.6" y="2093.7" font-size="26" class="k" text-anchor="middle" textLength="25.98" lengthAdjust="spacingAndGlyphs">(-)</text>
<text x="1195.8" y="2093.7" font-size="26" class="k" textLength="47.7" lengthAdjust="spacingAndGlyphs">Nec</text>
<line x1="776.3" y1="2106.3" x2="834.2" y2="2106.3" stroke="#120c0a" stroke-width="4"/>
<line x1="864.2" y1="2106.3" x2="961.6" y2="2106.3" stroke="#120c0a" stroke-width="4"/>
<line x1="1001" y1="2106.3" x2="1098.4" y2="2106.3" stroke="#120c0a" stroke-width="4"/>
<line x1="1140.5" y1="2106.3" x2="1239" y2="2106.3" stroke="#120c0a" stroke-width="4"/>
<text x="806.3" y="2135.8" font-size="26" class="k" text-anchor="middle" textLength="14.46" lengthAdjust="spacingAndGlyphs">0</text>
<text x="912.6" y="2135.8" font-size="26" class="k" text-anchor="middle" textLength="14.46" lengthAdjust="spacingAndGlyphs">1</text>
<text x="1049.5" y="2135.8" font-size="26" class="k" text-anchor="middle" textLength="14.46" lengthAdjust="spacingAndGlyphs">3</text>
<text x="1185.3" y="2135.8" font-size="26" class="k" text-anchor="middle" textLength="28.92" lengthAdjust="spacingAndGlyphs">10</text>
<text x="1215.3" y="2135.8" font-size="26" class="k" textLength="86.65" lengthAdjust="spacingAndGlyphs">(ng/ml)</text>
<line x1="902.1" y1="2145.8" x2="1199.5" y2="2145.8" stroke="#120c0a" stroke-width="4"/>
<text x="985.5" y="2175.8" font-size="26" textLength="117.33" lengthAdjust="spacingAndGlyphs">TNF/CHX</text>
<text x="566" y="461" font-size="36" textLength="11.99" lengthAdjust="spacingAndGlyphs">f</text>
<text x="923" y="467" font-size="26" text-anchor="middle" textLength="63.58" lengthAdjust="spacingAndGlyphs">HeLa</text>
<text x="616.7" y="499.6" font-size="26" textLength="116.41" lengthAdjust="spacingAndGlyphs">GST-TNF</text>
<text x="673" y="522" font-size="26" text-anchor="middle" textLength="15.18" lengthAdjust="spacingAndGlyphs">+</text>
<text x="648" y="544" font-size="26" textLength="50.58" lengthAdjust="spacingAndGlyphs">BV6</text>
<text x="836" y="499.6" font-size="26" text-anchor="middle" textLength="40.42" lengthAdjust="spacingAndGlyphs">WT</text>
<line x1="771.3" y1="508.3" x2="913.2" y2="508.3" stroke="#120c0a" stroke-width="3.2"/>
<text x="975" y="499.6" font-size="26" textLength="108.34" lengthAdjust="spacingAndGlyphs"><tspan font-style="italic">MIB2</tspan> KO</text>
<line x1="953.7" y1="508.3" x2="1093.9" y2="508.3" stroke="#120c0a" stroke-width="3.2"/>
<text x="765.6" y="544" font-size="26" text-anchor="middle" textLength="14.46" lengthAdjust="spacingAndGlyphs">0</text>
<text x="811.9" y="544" font-size="26" text-anchor="middle" textLength="28.92" lengthAdjust="spacingAndGlyphs">10</text>
<text x="855.3" y="544" font-size="26" text-anchor="middle" textLength="28.92" lengthAdjust="spacingAndGlyphs">60</text>
<text x="909.2" y="544" font-size="26" text-anchor="middle" textLength="43.38" lengthAdjust="spacingAndGlyphs">120</text>
<text x="953.7" y="544" font-size="26" text-anchor="middle" textLength="14.46" lengthAdjust="spacingAndGlyphs">0</text>
<text x="998.3" y="544" font-size="26" text-anchor="middle" textLength="28.92" lengthAdjust="spacingAndGlyphs">10</text>
<text x="1043.5" y="544" font-size="26" text-anchor="middle" textLength="28.92" lengthAdjust="spacingAndGlyphs">60</text>
<text x="1095.6" y="544" font-size="26" text-anchor="middle" textLength="43.38" lengthAdjust="spacingAndGlyphs">120</text>
<text x="1127.4" y="544" font-size="26" textLength="63.54" lengthAdjust="spacingAndGlyphs">(min)</text>
<text x="664" y="581" font-size="26" textLength="50.56" lengthAdjust="spacingAndGlyphs">(kD)</text>
<line x1="651" y1="582.4" x2="651" y2="1108" stroke="#120c0a" stroke-width="3.5"/>
<text x="637.6" y="827.6" font-size="26" text-anchor="middle" textLength="145.98" lengthAdjust="spacingAndGlyphs" transform="rotate(-90 637.6 827.6)">IP: G-beads</text>
<line x1="650.7" y1="1177" x2="650.7" y2="1654" stroke="#120c0a" stroke-width="3.5"/>
<text x="638.4" y="1411.2" font-size="26" text-anchor="middle" textLength="63.53" lengthAdjust="spacingAndGlyphs" transform="rotate(-90 638.4 1411.2)">Input</text>
<text x="663.5" y="1172" font-size="26" textLength="50.56" lengthAdjust="spacingAndGlyphs">(kD)</text>
<line x1="1139.3" y1="570.3" x2="1139.3" y2="686" stroke="#120c0a" stroke-width="3.5"/>
<text x="1174" y="621" font-size="26" text-anchor="middle" textLength="119.9" lengthAdjust="spacingAndGlyphs" transform="rotate(-90 1174 621)">Ub-RIPK1</text>
<text x="1137.6" y="710.4" font-size="26" textLength="76.58" lengthAdjust="spacingAndGlyphs">RIPK1</text>
<text x="1137.6" y="926.3" font-size="26" textLength="92.46" lengthAdjust="spacingAndGlyphs">pRIPK1</text>
<text x="1137.6" y="1043.3" font-size="26" textLength="62.12" lengthAdjust="spacingAndGlyphs">MIB2</text>
<text x="1137.6" y="1117.4" font-size="26" textLength="83.78" lengthAdjust="spacingAndGlyphs">TNFR1</text>
<text x="1137.6" y="1208" font-size="26" textLength="92.46" lengthAdjust="spacingAndGlyphs">pRIPK1</text>
<text x="1137.6" y="1273" font-size="26" textLength="76.58" lengthAdjust="spacingAndGlyphs">RIPK1</text>
<text x="1152.3" y="1345" font-size="26" textLength="62.12" lengthAdjust="spacingAndGlyphs">MIB2</text>
<text x="1142.8" y="1340" font-size="25.5" text-anchor="middle" textLength="9.92" lengthAdjust="spacingAndGlyphs" style="font-weight:normal;stroke-width:0.6px">*</text>
<text x="1142.2" y="1365" font-size="25.5" text-anchor="middle" textLength="9.92" lengthAdjust="spacingAndGlyphs" style="font-weight:normal;stroke-width:0.6px">*</text>
<text x="1137.6" y="1416" font-size="26" textLength="70.79" lengthAdjust="spacingAndGlyphs">cFLIP</text>
<text x="1210.5" y="1425" font-size="15.5" textLength="9.47" lengthAdjust="spacingAndGlyphs" style="font-weight:normal;stroke-width:0.5px">L</text>
<text x="1137.6" y="1488.7" font-size="26" textLength="72.27" lengthAdjust="spacingAndGlyphs">cIAP1</text>
<text x="1137.6" y="1567.7" font-size="26" textLength="83.78" lengthAdjust="spacingAndGlyphs">TNFR1</text>
<text x="1137.6" y="1653.4" font-size="26" textLength="91.93" lengthAdjust="spacingAndGlyphs">Tubulin</text>
<text x="712.5" y="611.17" font-size="26" class="k" text-anchor="end" textLength="43.38" lengthAdjust="spacingAndGlyphs">250</text>
<line x1="718" y1="601.5" x2="733.7" y2="601.5" stroke="#000" stroke-width="3.8"/>
<text x="712.5" y="636.67" font-size="26" class="k" text-anchor="end" textLength="43.38" lengthAdjust="spacingAndGlyphs">150</text>
<line x1="718" y1="627" x2="733.7" y2="627" stroke="#000" stroke-width="3.8"/>
<text x="712.5" y="674.17" font-size="26" class="k" text-anchor="end" textLength="43.38" lengthAdjust="spacingAndGlyphs">100</text>
<line x1="718" y1="664.5" x2="733.7" y2="664.5" stroke="#000" stroke-width="3.8"/>
<text x="712.5" y="701.17" font-size="26" class="k" text-anchor="end" textLength="28.92" lengthAdjust="spacingAndGlyphs">75</text>
<line x1="718" y1="691.5" x2="733.7" y2="691.5" stroke="#000" stroke-width="3.8"/>
<text x="712.5" y="775.67" font-size="26" class="k" text-anchor="end" textLength="28.92" lengthAdjust="spacingAndGlyphs">50</text>
<line x1="718" y1="766" x2="733.7" y2="766" stroke="#000" stroke-width="3.8"/>
<clipPath id="c1"><rect x="734.5" y="560.5" width="395" height="211.9"/></clipPath>
<rect x="734.5" y="560.5" width="395" height="211.9" fill="#fcfcfc"/>
<g clip-path="url(#c1)">
<rect x="798.2" y="606" width="31" height="88" rx="8" fill="#000" fill-opacity="0.07" filter="url(#bl6)"/>
<rect x="798.2" y="613.65" width="31" height="7.5" rx="3.75" fill="#000" fill-opacity="0.11" filter="url(#bl4)"/>
<rect x="798.2" y="624.25" width="31" height="7.5" rx="3.75" fill="#000" fill-opacity="0.1" filter="url(#bl4)"/>
<rect x="798.2" y="642.25" width="31" height="7.5" rx="3.75" fill="#000" fill-opacity="0.04" filter="url(#bl4)"/>
<rect x="798.2" y="660.85" width="31" height="7.5" rx="3.75" fill="#000" fill-opacity="0.09" filter="url(#bl4)"/>
<rect x="798.2" y="677.65" width="31" height="7.5" rx="3.75" fill="#000" fill-opacity="0.2" filter="url(#bl4)"/>
<rect x="848.5" y="606" width="31" height="88" rx="8" fill="#000" fill-opacity="0.07" filter="url(#bl6)"/>
<rect x="848.5" y="624.25" width="31" height="7.5" rx="3.75" fill="#000" fill-opacity="0.07" filter="url(#bl4)"/>
<rect x="848.5" y="642.25" width="31" height="7.5" rx="3.75" fill="#000" fill-opacity="0.05" filter="url(#bl4)"/>
<rect x="848.5" y="660.85" width="31" height="7.5" rx="3.75" fill="#000" fill-opacity="0.14" filter="url(#bl4)"/>
<rect x="848.5" y="677.65" width="31" height="7.5" rx="3.75" fill="#000" fill-opacity="0.22" filter="url(#bl4)"/>
<rect x="848.5" y="685.25" width="31" height="7.5" rx="3.75" fill="#000" fill-opacity="0.15" filter="url(#bl4)"/>
<rect x="894.2" y="606" width="31" height="88" rx="8" fill="#000" fill-opacity="0.08" filter="url(#bl6)"/>
<rect x="894.2" y="624.25" width="31" height="7.5" rx="3.75" fill="#000" fill-opacity="0.1" filter="url(#bl4)"/>
<rect x="894.2" y="642.25" width="31" height="7.5" rx="3.75" fill="#000" fill-opacity="0.07" filter="url(#bl4)"/>
<rect x="894.2" y="660.85" width="31" height="7.5" rx="3.75" fill="#000" fill-opacity="0.19" filter="url(#bl4)"/>
<rect x="894.2" y="677.65" width="31" height="7.5" rx="3.75" fill="#000" fill-opacity="0.27" filter="url(#bl4)"/>
<rect x="894.2" y="685.25" width="31" height="7.5" rx="3.75" fill="#000" fill-opacity="0.24" filter="url(#bl4)"/>
<rect x="987" y="606" width="31" height="88" rx="8" fill="#000" fill-opacity="0.08" filter="url(#bl6)"/>
<rect x="987" y="613.65" width="31" height="7.5" rx="3.75" fill="#000" fill-opacity="0.14" filter="url(#bl4)"/>
<rect x="987" y="624.25" width="31" height="7.5" rx="3.75" fill="#000" fill-opacity="0.15" filter="url(#bl4)"/>
<rect x="987" y="642.25" width="31" height="7.5" rx="3.75" fill="#000" fill-opacity="0.09" filter="url(#bl4)"/>
<rect x="987" y="660.85" width="31" height="7.5" rx="3.75" fill="#000" fill-opacity="0.17" filter="url(#bl4)"/>
<rect x="987" y="677.65" width="31" height="7.5" rx="3.75" fill="#000" fill-opacity="0.27" filter="url(#bl4)"/>
<rect x="1034.2" y="606" width="31" height="88" rx="8" fill="#000" fill-opacity="0.33" filter="url(#bl6)"/>
<rect x="1034.2" y="613.65" width="31" height="7.5" rx="3.75" fill="#000" fill-opacity="0.17" filter="url(#bl4)"/>
<rect x="1034.2" y="624.25" width="31" height="7.5" rx="3.75" fill="#000" fill-opacity="0.21" filter="url(#bl4)"/>
<rect x="1034.2" y="642.25" width="31" height="7.5" rx="3.75" fill="#000" fill-opacity="0.34" filter="url(#bl4)"/>
<rect x="1034.2" y="651.75" width="31" height="7.5" rx="3.75" fill="#000" fill-opacity="0.3" filter="url(#bl4)"/>
<rect x="1034.2" y="660.85" width="31" height="7.5" rx="3.75" fill="#000" fill-opacity="0.51" filter="url(#bl4)"/>
<rect x="1034.2" y="669.95" width="31" height="7.5" rx="3.75" fill="#000" fill-opacity="0.68" filter="url(#bl4)"/>
<rect x="1085.5" y="606" width="31" height="88" rx="8" fill="#000" fill-opacity="0.08" filter="url(#bl6)"/>
<rect x="1085.5" y="624.25" width="31" height="7.5" rx="3.75" fill="#000" fill-opacity="0.09" filter="url(#bl4)"/>
<rect x="1085.5" y="642.25" width="31" height="7.5" rx="3.75" fill="#000" fill-opacity="0.09" filter="url(#bl4)"/>
<rect x="1085.5" y="660.85" width="31" height="7.5" rx="3.75" fill="#000" fill-opacity="0.22" filter="url(#bl4)"/>
<rect x="1085.5" y="669.95" width="31" height="7.5" rx="3.75" fill="#000" fill-opacity="0.17" filter="url(#bl4)"/>
<rect x="1085.5" y="677.65" width="31" height="7.5" rx="3.75" fill="#000" fill-opacity="0.31" filter="url(#bl4)"/>
<rect x="1085.5" y="685.25" width="31" height="7.5" rx="3.75" fill="#000" fill-opacity="0.24" filter="url(#bl4)"/>
<rect x="1032.7" y="655" width="34" height="26" rx="13" fill="#000" fill-opacity="0.45" filter="url(#bl5)"/>
<rect x="750" y="699.75" width="30" height="4.5" rx="2.25" fill="#000" fill-opacity="0.22" filter="url(#bl2)"/>
<rect x="799.7" y="697" width="28" height="6" rx="3" fill="#000" fill-opacity="0.07" filter="url(#bl3)"/>
<rect x="850.03" y="696" width="31.93" height="10.4" rx="12.5" ry="5.2" fill="#000" fill-opacity="1" filter="url(#bl2)"/>
<rect x="848" y="698.5" width="12" height="7" rx="3.5" fill="#000" fill-opacity="0.35" filter="url(#bl3)"/>
<rect x="894.25" y="695.04" width="30.9" height="10.92" rx="13.12" ry="5.46" fill="#000" fill-opacity="1" filter="url(#bl2)"/>
<rect x="942" y="697" width="30" height="5" rx="2.5" fill="#000" fill-opacity="0.1" filter="url(#bl2_5)"/>
<rect x="988" y="694" width="29" height="8" rx="4" fill="#000" fill-opacity="0.45" filter="url(#bl3)"/>
<rect x="1029.7" y="692" width="42" height="18" rx="8.5" fill="#000" fill-opacity="1" filter="url(#bl2)"/>
<rect x="1032.2" y="676" width="35" height="24" rx="8" fill="#000" fill-opacity="1" filter="url(#bl2_5)"/>
<rect x="1082.97" y="694.52" width="36.05" height="11.96" rx="14.38" ry="5.98" fill="#000" fill-opacity="1" filter="url(#bl2)"/>
<rect x="749" y="758.25" width="32" height="4.5" rx="2.25" fill="#000" fill-opacity="0.12" filter="url(#bl2_5)"/>
<rect x="797.7" y="758.25" width="32" height="4.5" rx="2.25" fill="#000" fill-opacity="0.12" filter="url(#bl2_5)"/>
<rect x="848" y="758.25" width="32" height="4.5" rx="2.25" fill="#000" fill-opacity="0.15" filter="url(#bl2_5)"/>
<rect x="893.7" y="758.25" width="32" height="4.5" rx="2.25" fill="#000" fill-opacity="0.13" filter="url(#bl2_5)"/>
<rect x="941" y="758.25" width="32" height="4.5" rx="2.25" fill="#000" fill-opacity="0.04" filter="url(#bl2_5)"/>
<rect x="986.5" y="758.25" width="32" height="4.5" rx="2.25" fill="#000" fill-opacity="0.06" filter="url(#bl2_5)"/>
<rect x="1033.7" y="758.25" width="32" height="4.5" rx="2.25" fill="#000" fill-opacity="0.18" filter="url(#bl2_5)"/>
<rect x="1085" y="758.25" width="32" height="4.5" rx="2.25" fill="#000" fill-opacity="0.04" filter="url(#bl2_5)"/>
</g>
<rect x="734.5" y="560.5" width="395" height="211.9" fill="none" stroke="#231815" stroke-width="3.9"/>
<text x="712.5" y="830.07" font-size="26" class="k" text-anchor="end" textLength="43.38" lengthAdjust="spacingAndGlyphs">250</text>
<line x1="718" y1="820.4" x2="733.7" y2="820.4" stroke="#000" stroke-width="3.8"/>
<text x="712.5" y="853.87" font-size="26" class="k" text-anchor="end" textLength="43.38" lengthAdjust="spacingAndGlyphs">150</text>
<line x1="718" y1="844.2" x2="733.7" y2="844.2" stroke="#000" stroke-width="3.8"/>
<text x="712.5" y="891.07" font-size="26" class="k" text-anchor="end" textLength="43.38" lengthAdjust="spacingAndGlyphs">100</text>
<line x1="718" y1="881.4" x2="733.7" y2="881.4" stroke="#000" stroke-width="3.8"/>
<text x="712.5" y="918.47" font-size="26" class="k" text-anchor="end" textLength="28.92" lengthAdjust="spacingAndGlyphs">75</text>
<line x1="718" y1="908.8" x2="733.7" y2="908.8" stroke="#000" stroke-width="3.8"/>
<text x="712.5" y="988.57" font-size="26" class="k" text-anchor="end" textLength="28.92" lengthAdjust="spacingAndGlyphs">50</text>
<line x1="718" y1="978.9" x2="733.7" y2="978.9" stroke="#000" stroke-width="3.8"/>
<clipPath id="c2"><rect x="734.5" y="780.5" width="395" height="213.7"/></clipPath>
<rect x="734.5" y="780.5" width="395" height="213.7" fill="#fdfdfd"/>
<g clip-path="url(#c2)">
<rect x="843" y="825.5" width="30" height="85" rx="8" fill="#000" fill-opacity="0.07" filter="url(#bl6)"/>
<rect x="842.5" y="845" width="31" height="6" rx="3" fill="#000" fill-opacity="0.06" filter="url(#bl3)"/>
<rect x="842.5" y="878.6" width="31" height="6" rx="3" fill="#000" fill-opacity="0.09" filter="url(#bl3)"/>
<rect x="842.5" y="898.4" width="31" height="6" rx="3" fill="#000" fill-opacity="0.18" filter="url(#bl3)"/>
<rect x="889.2" y="825.5" width="30" height="85" rx="8" fill="#000" fill-opacity="0.06" filter="url(#bl6)"/>
<rect x="888.7" y="845" width="31" height="6" rx="3" fill="#000" fill-opacity="0.05" filter="url(#bl3)"/>
<rect x="888.7" y="878.6" width="31" height="6" rx="3" fill="#000" fill-opacity="0.07" filter="url(#bl3)"/>
<rect x="888.7" y="898.4" width="31" height="6" rx="3" fill="#000" fill-opacity="0.15" filter="url(#bl3)"/>
<rect x="1028.6" y="825.5" width="30" height="85" rx="8" fill="#000" fill-opacity="0.2" filter="url(#bl6)"/>
<rect x="1028.1" y="833" width="31" height="6" rx="3" fill="#000" fill-opacity="0.11" filter="url(#bl3)"/>
<rect x="1028.1" y="845" width="31" height="6" rx="3" fill="#000" fill-opacity="0.2" filter="url(#bl3)"/>
<rect x="1028.1" y="860" width="31" height="6" rx="3" fill="#000" fill-opacity="0.25" filter="url(#bl3)"/>
<rect x="1028.1" y="872.5" width="31" height="6" rx="3" fill="#000" fill-opacity="0.25" filter="url(#bl3)"/>
<rect x="1028.1" y="881.6" width="31" height="6" rx="3" fill="#000" fill-opacity="0.38" filter="url(#bl3)"/>
<rect x="1028.1" y="889.2" width="31" height="6" rx="3" fill="#000" fill-opacity="0.45" filter="url(#bl3)"/>
<rect x="1079" y="825.5" width="30" height="85" rx="8" fill="#000" fill-opacity="0.08" filter="url(#bl6)"/>
<rect x="1078.5" y="842" width="31" height="6" rx="3" fill="#000" fill-opacity="0.06" filter="url(#bl3)"/>
<rect x="1078.5" y="863" width="31" height="6" rx="3" fill="#000" fill-opacity="0.08" filter="url(#bl3)"/>
<rect x="1078.5" y="881.6" width="31" height="6" rx="3" fill="#000" fill-opacity="0.16" filter="url(#bl3)"/>
<rect x="1078.5" y="889.2" width="31" height="6" rx="3" fill="#000" fill-opacity="0.16" filter="url(#bl3)"/>
<rect x="1078.5" y="898.4" width="31" height="6" rx="3" fill="#000" fill-opacity="0.25" filter="url(#bl3)"/>
<rect x="1078.5" y="904.5" width="31" height="6" rx="3" fill="#000" fill-opacity="0.27" filter="url(#bl3)"/>
<rect x="1027.63" y="900.28" width="31.93" height="11.44" rx="13.75" ry="5.72" fill="#000" fill-opacity="0.95" filter="url(#bl2_5)"/>
<rect x="1029.6" y="951.7" width="28" height="12" rx="6" fill="#000" fill-opacity="0.13" filter="url(#bl4)"/>
<rect x="1029.6" y="972.5" width="28" height="10" rx="5" fill="#000" fill-opacity="0.16" filter="url(#bl4)"/>
<rect x="1030.6" y="915" width="26" height="60" rx="8" fill="#000" fill-opacity="0.05" filter="url(#bl5)"/>
<rect x="842.03" y="913.76" width="31.93" height="9.88" rx="11.88" ry="4.94" fill="#000" fill-opacity="0.85" filter="url(#bl2_5)"/>
<rect x="888.24" y="913.26" width="31.93" height="9.88" rx="11.88" ry="4.94" fill="#000" fill-opacity="0.85" filter="url(#bl2_5)"/>
<rect x="983" y="914" width="28" height="8" rx="4" fill="#000" fill-opacity="0.2" filter="url(#bl3_0)"/>
<rect x="1023.6" y="911" width="40" height="17" rx="8" fill="#000" fill-opacity="1" filter="url(#bl2)"/>
<rect x="1076.49" y="915.04" width="35.02" height="10.92" rx="13.12" ry="5.46" fill="#000" fill-opacity="1" filter="url(#bl2)"/>
</g>
<rect x="734.5" y="780.5" width="395" height="213.7" fill="none" stroke="#231815" stroke-width="3.9"/>
<text x="712.5" y="1025.47" font-size="26" class="k" text-anchor="end" textLength="43.38" lengthAdjust="spacingAndGlyphs">150</text>
<line x1="718" y1="1015.8" x2="733.7" y2="1015.8" stroke="#000" stroke-width="3.8"/>
<text x="712.5" y="1053.77" font-size="26" class="k" text-anchor="end" textLength="43.38" lengthAdjust="spacingAndGlyphs">100</text>
<line x1="718" y1="1044.1" x2="733.7" y2="1044.1" stroke="#000" stroke-width="3.8"/>
<clipPath id="c3"><rect x="734.5" y="1005.5" width="395" height="56.7"/></clipPath>
<rect x="734.5" y="1005.5" width="395" height="56.7" fill="#f2f2f2"/>
<g clip-path="url(#c3)">
<rect x="797.3" y="1030.05" width="36" height="4.5" rx="2.25" fill="#000" fill-opacity="0.9" filter="url(#bl1_5)"/>
<rect x="796" y="1028.3" width="11" height="8" rx="4" fill="#000" fill-opacity="0.95" filter="url(#bl1_5)"/>
<rect x="823" y="1028.3" width="11" height="8" rx="4" fill="#000" fill-opacity="0.95" filter="url(#bl1_5)"/>
<rect x="797.3" y="1040.5" width="36" height="5" rx="2.5" fill="#000" fill-opacity="0.2" filter="url(#bl2_5)"/>
<rect x="952" y="1040.5" width="30" height="6" rx="3" fill="#000" fill-opacity="0.06" filter="url(#bl3_0)"/>
</g>
<rect x="734.5" y="1005.5" width="395" height="56.7" fill="none" stroke="#231815" stroke-width="3.9"/>
<text x="712.5" y="1103.47" font-size="26" class="k" text-anchor="end" textLength="28.92" lengthAdjust="spacingAndGlyphs">60</text>
<line x1="718" y1="1093.8" x2="733.7" y2="1093.8" stroke="#000" stroke-width="3.8"/>
<clipPath id="c4"><rect x="734.5" y="1075" width="395" height="73"/></clipPath>
<rect x="734.5" y="1075" width="395" height="73" fill="#f9f9f9"/>
<g clip-path="url(#c4)">
<rect x="751" y="1095.2" width="46" height="31" rx="14" fill="#000" fill-opacity="1" filter="url(#bl2)"/>
<rect x="934.9" y="1093.45" width="43" height="28.5" rx="13" fill="#000" fill-opacity="1" filter="url(#bl2)"/>
<rect x="945" y="1085" width="30" height="14" rx="7" fill="#000" fill-opacity="0.2" filter="url(#bl4)"/>
<rect x="804.6" y="1106.5" width="32" height="10" rx="5" fill="#000" fill-opacity="0.45" filter="url(#bl3_0)"/>
<rect x="849.5" y="1105" width="32" height="10" rx="5" fill="#000" fill-opacity="0.6" filter="url(#bl3_0)"/>
<rect x="895" y="1105" width="32" height="10" rx="5" fill="#000" fill-opacity="0.65" filter="url(#bl3_0)"/>
<rect x="984" y="1105.9" width="32" height="10" rx="5" fill="#000" fill-opacity="0.6" filter="url(#bl3_0)"/>
<rect x="1030" y="1103.4" width="32" height="10" rx="5" fill="#000" fill-opacity="0.45" filter="url(#bl3_0)"/>
<rect x="1075.6" y="1104.3" width="32" height="10" rx="5" fill="#000" fill-opacity="0.5" filter="url(#bl3_0)"/>
<circle cx="979.32" cy="1127.22" r="1.06" fill="#000" fill-opacity="0.48"/>
<circle cx="1024.36" cy="1138.95" r="0.52" fill="#000" fill-opacity="0.29"/>
<circle cx="1102.69" cy="1121.18" r="1.13" fill="#000" fill-opacity="0.15"/>
<circle cx="920.09" cy="1095.03" r="0.88" fill="#000" fill-opacity="0.33"/>
<circle cx="744.55" cy="1093.09" r="0.7" fill="#000" fill-opacity="0.47"/>
<circle cx="1034.3" cy="1089.37" r="1.06" fill="#000" fill-opacity="0.16"/>
<circle cx="977.22" cy="1087.24" r="0.5" fill="#000" fill-opacity="0.45"/>
<circle cx="820.14" cy="1093.01" r="1.19" fill="#000" fill-opacity="0.45"/>
<circle cx="850.88" cy="1141.5" r="0.88" fill="#000" fill-opacity="0.37"/>
<circle cx="818.34" cy="1140.16" r="0.98" fill="#000" fill-opacity="0.49"/>
<circle cx="1083.59" cy="1098.42" r="0.75" fill="#000" fill-opacity="0.17"/>
<circle cx="795.6" cy="1083.23" r="0.71" fill="#000" fill-opacity="0.34"/>
<circle cx="740.8" cy="1123.07" r="0.74" fill="#000" fill-opacity="0.22"/>
<circle cx="1054.63" cy="1110.25" r="0.72" fill="#000" fill-opacity="0.29"/>
<circle cx="1010.8" cy="1082.71" r="1.18" fill="#000" fill-opacity="0.11"/>
<circle cx="1028.17" cy="1133.92" r="0.51" fill="#000" fill-opacity="0.42"/>
<circle cx="880.48" cy="1116.6" r="0.51" fill="#000" fill-opacity="0.12"/>
<circle cx="809.15" cy="1141.09" r="0.64" fill="#000" fill-opacity="0.4"/>
<circle cx="1097.42" cy="1140.23" r="0.74" fill="#000" fill-opacity="0.24"/>
<circle cx="941.51" cy="1129.41" r="0.58" fill="#000" fill-opacity="0.4"/>
<circle cx="1046.43" cy="1134.88" r="0.53" fill="#000" fill-opacity="0.48"/>
<circle cx="774.6" cy="1101.15" r="0.93" fill="#000" fill-opacity="0.47"/>
<circle cx="870.38" cy="1139.07" r="0.88" fill="#000" fill-opacity="0.22"/>
<circle cx="861.47" cy="1090.54" r="0.55" fill="#000" fill-opacity="0.16"/>
<circle cx="1004.83" cy="1143.79" r="0.61" fill="#000" fill-opacity="0.12"/>
<circle cx="1119.38" cy="1113.68" r="0.78" fill="#000" fill-opacity="0.19"/>
<circle cx="968.17" cy="1132.71" r="0.82" fill="#000" fill-opacity="0.27"/>
<circle cx="760.95" cy="1138.54" r="0.52" fill="#000" fill-opacity="0.3"/>
<circle cx="1062.3" cy="1087.49" r="1.01" fill="#000" fill-opacity="0.48"/>
<circle cx="982.2" cy="1130.22" r="0.57" fill="#000" fill-opacity="0.27"/>
<circle cx="796.96" cy="1133.91" r="0.71" fill="#000" fill-opacity="0.28"/>
<circle cx="1124.23" cy="1134.4" r="1.18" fill="#000" fill-opacity="0.28"/>
<circle cx="927.44" cy="1126.42" r="0.84" fill="#000" fill-opacity="0.22"/>
<circle cx="894.96" cy="1088.52" r="0.76" fill="#000" fill-opacity="0.5"/>
<circle cx="1109.03" cy="1119.75" r="0.85" fill="#000" fill-opacity="0.24"/>
<circle cx="773.82" cy="1096.7" r="1.05" fill="#000" fill-opacity="0.45"/>
<circle cx="878.61" cy="1130.09" r="1.04" fill="#000" fill-opacity="0.38"/>
<circle cx="995.15" cy="1128.38" r="0.75" fill="#000" fill-opacity="0.38"/>
<circle cx="847.63" cy="1110.57" r="1.04" fill="#000" fill-opacity="0.38"/>
<circle cx="852.63" cy="1140.46" r="0.95" fill="#000" fill-opacity="0.33"/>
<circle cx="743.96" cy="1114.55" r="0.68" fill="#000" fill-opacity="0.37"/>
<circle cx="917.73" cy="1132.08" r="0.95" fill="#000" fill-opacity="0.42"/>
<circle cx="873.44" cy="1120.86" r="1.02" fill="#000" fill-opacity="0.43"/>
<circle cx="874.27" cy="1133.79" r="1.11" fill="#000" fill-opacity="0.38"/>
<circle cx="1115.31" cy="1141.17" r="0.86" fill="#000" fill-opacity="0.31"/>
<circle cx="803.48" cy="1133.38" r="1.16" fill="#000" fill-opacity="0.29"/>
<circle cx="1005.7" cy="1125.78" r="1.01" fill="#000" fill-opacity="0.17"/>
<circle cx="1039.94" cy="1116.75" r="0.97" fill="#000" fill-opacity="0.27"/>
<circle cx="979.64" cy="1129.36" r="0.95" fill="#000" fill-opacity="0.39"/>
<circle cx="750.13" cy="1089.4" r="0.81" fill="#000" fill-opacity="0.36"/>
<circle cx="823.83" cy="1123.59" r="0.94" fill="#000" fill-opacity="0.12"/>
<circle cx="921.06" cy="1093.71" r="0.54" fill="#000" fill-opacity="0.15"/>
<circle cx="861.68" cy="1090.8" r="0.64" fill="#000" fill-opacity="0.11"/>
<circle cx="918.65" cy="1103.72" r="0.93" fill="#000" fill-opacity="0.34"/>
<circle cx="831.07" cy="1137.71" r="0.5" fill="#000" fill-opacity="0.26"/>
<circle cx="846.73" cy="1105.65" r="0.58" fill="#000" fill-opacity="0.43"/>
<circle cx="883.44" cy="1081.34" r="0.93" fill="#000" fill-opacity="0.14"/>
<circle cx="949.41" cy="1101.06" r="0.91" fill="#000" fill-opacity="0.48"/>
<circle cx="1054.63" cy="1106.24" r="1.07" fill="#000" fill-opacity="0.36"/>
<circle cx="881.74" cy="1088.24" r="0.92" fill="#000" fill-opacity="0.33"/>
<circle cx="1108.03" cy="1141.92" r="0.93" fill="#000" fill-opacity="0.24"/>
<circle cx="1083.48" cy="1079.06" r="0.58" fill="#000" fill-opacity="0.33"/>
<circle cx="976.34" cy="1088.15" r="0.94" fill="#000" fill-opacity="0.46"/>
<circle cx="884.2" cy="1107.06" r="0.66" fill="#000" fill-opacity="0.22"/>
<circle cx="1113.9" cy="1103.69" r="1.17" fill="#000" fill-opacity="0.47"/>
<circle cx="968.89" cy="1095.89" r="1.19" fill="#000" fill-opacity="0.3"/>
<circle cx="899.46" cy="1099.74" r="1.19" fill="#000" fill-opacity="0.3"/>
<circle cx="849.76" cy="1110" r="0.59" fill="#000" fill-opacity="0.35"/>
<circle cx="910.24" cy="1098.05" r="1.05" fill="#000" fill-opacity="0.43"/>
<circle cx="744.58" cy="1113.62" r="0.69" fill="#000" fill-opacity="0.47"/>
</g>
<rect x="734.5" y="1075" width="395" height="73" fill="none" stroke="#231815" stroke-width="3.9"/>
<text x="712.5" y="1198.17" font-size="26" class="k" text-anchor="end" textLength="28.92" lengthAdjust="spacingAndGlyphs">75</text>
<line x1="718" y1="1188.5" x2="732.4" y2="1188.5" stroke="#000" stroke-width="3.8"/>
<clipPath id="c5"><rect x="732.4" y="1171.7" width="394.1" height="56.6"/></clipPath>
<rect x="732.4" y="1171.7" width="394.1" height="56.6" fill="#fbfbfb"/>
<g clip-path="url(#c5)">
<rect x="751" y="1183.5" width="30" height="5" rx="2.5" fill="#000" fill-opacity="0.03" filter="url(#bl3)"/>
<rect x="797" y="1183.5" width="30" height="5" rx="2.5" fill="#000" fill-opacity="0.03" filter="url(#bl3)"/>
<rect x="845" y="1183.5" width="30" height="5" rx="2.5" fill="#000" fill-opacity="0.03" filter="url(#bl3)"/>
<rect x="891" y="1183.5" width="30" height="5" rx="2.5" fill="#000" fill-opacity="0.03" filter="url(#bl3)"/>
<rect x="936" y="1183.5" width="30" height="5" rx="2.5" fill="#000" fill-opacity="0.03" filter="url(#bl3)"/>
<rect x="983" y="1183.5" width="30" height="5" rx="2.5" fill="#000" fill-opacity="0.03" filter="url(#bl3)"/>
<rect x="1027.5" y="1199.5" width="35" height="7" rx="3.5" fill="#000" fill-opacity="0.62" filter="url(#bl2_5)"/>
<rect x="1074.43" y="1196.04" width="39.14" height="10.92" rx="13.12" ry="5.46" fill="#000" fill-opacity="1" filter="url(#bl2)" transform="rotate(-2 1094 1201.5)"/>
<rect x="1078" y="1183" width="32" height="6" rx="3" fill="#000" fill-opacity="0.05" filter="url(#bl3)"/>
</g>
<rect x="732.4" y="1171.7" width="394.1" height="56.6" fill="none" stroke="#231815" stroke-width="3.9"/>
<text x="712.5" y="1267.37" font-size="26" class="k" text-anchor="end" textLength="28.92" lengthAdjust="spacingAndGlyphs">75</text>
<line x1="718" y1="1257.7" x2="732.4" y2="1257.7" stroke="#000" stroke-width="3.8"/>
<clipPath id="c6"><rect x="732.4" y="1239.6" width="394.1" height="56.9"/></clipPath>
<rect x="732.4" y="1239.6" width="394.1" height="56.9" fill="#fbfbfb"/>
<g clip-path="url(#c6)">
<rect x="746.43" y="1261.02" width="39.14" height="11.96" rx="14.38" ry="5.98" fill="#000" fill-opacity="0.97" filter="url(#bl2)"/>
<rect x="793.45" y="1262.78" width="38.11" height="11.44" rx="13.75" ry="5.72" fill="#000" fill-opacity="0.97" filter="url(#bl2)"/>
<rect x="840.89" y="1263.68" width="38.62" height="11.44" rx="13.75" ry="5.72" fill="#000" fill-opacity="0.97" filter="url(#bl2)" transform="rotate(1 860.2 1269.4)"/>
<rect x="887.88" y="1265.5" width="36.05" height="10.4" rx="12.5" ry="5.2" fill="#000" fill-opacity="0.97" filter="url(#bl2)"/>
<rect x="933.48" y="1265.24" width="36.05" height="10.92" rx="13.12" ry="5.46" fill="#000" fill-opacity="0.97" filter="url(#bl2)"/>
<rect x="978.65" y="1264.54" width="38.11" height="10.92" rx="13.12" ry="5.46" fill="#000" fill-opacity="0.97" filter="url(#bl2)"/>
<rect x="1026.2" y="1263.06" width="37.59" height="9.88" rx="11.88" ry="4.94" fill="#000" fill-opacity="0.97" filter="url(#bl2)"/>
<rect x="1075.46" y="1261.28" width="37.08" height="8.84" rx="10.62" ry="4.42" fill="#000" fill-opacity="0.97" filter="url(#bl2)" transform="rotate(-3 1094 1265.7)"/>
</g>
<rect x="732.4" y="1239.6" width="394.1" height="56.9" fill="none" stroke="#231815" stroke-width="3.9"/>
<text x="712.5" y="1352.47" font-size="26" class="k" text-anchor="end" textLength="43.38" lengthAdjust="spacingAndGlyphs">100</text>
<line x1="718" y1="1342.8" x2="732.4" y2="1342.8" stroke="#000" stroke-width="3.8"/>
<clipPath id="c7"><rect x="732.4" y="1308" width="394.1" height="58"/></clipPath>
<rect x="732.4" y="1308" width="394.1" height="58" fill="#f1f1f1"/>
<g clip-path="url(#c7)">
<rect x="744.5" y="1322.15" width="38" height="5.5" rx="2.75" fill="#000" fill-opacity="0.45" filter="url(#bl2_5)"/>
<rect x="744" y="1331" width="39" height="7" rx="3.5" fill="#000" fill-opacity="0.85" filter="url(#bl2_5)"/>
<rect x="744.5" y="1343.5" width="38" height="7" rx="3.5" fill="#000" fill-opacity="0.55" filter="url(#bl3)"/>
<rect x="743.5" y="1313" width="40" height="50" rx="4" fill="#000" fill-opacity="0.04" filter="url(#bl4)"/>
<rect x="793" y="1322.15" width="38" height="5.5" rx="2.75" fill="#000" fill-opacity="0.45" filter="url(#bl2_5)"/>
<rect x="792.5" y="1331" width="39" height="7" rx="3.5" fill="#000" fill-opacity="0.85" filter="url(#bl2_5)"/>
<rect x="793" y="1343.5" width="38" height="7" rx="3.5" fill="#000" fill-opacity="0.55" filter="url(#bl3)"/>
<rect x="792" y="1313" width="40" height="50" rx="4" fill="#000" fill-opacity="0.04" filter="url(#bl4)"/>
<rect x="840.4" y="1323.65" width="38" height="5.5" rx="2.75" fill="#000" fill-opacity="0.45" filter="url(#bl2_5)"/>
<rect x="839.9" y="1332.5" width="39" height="7" rx="3.5" fill="#000" fill-opacity="0.85" filter="url(#bl2_5)"/>
<rect x="840.4" y="1345" width="38" height="7" rx="3.5" fill="#000" fill-opacity="0.55" filter="url(#bl3)"/>
<rect x="839.4" y="1313" width="40" height="50" rx="4" fill="#000" fill-opacity="0.04" filter="url(#bl4)"/>
<rect x="886" y="1325.15" width="38" height="5.5" rx="2.75" fill="#000" fill-opacity="0.45" filter="url(#bl2_5)"/>
<rect x="885.5" y="1334" width="39" height="7" rx="3.5" fill="#000" fill-opacity="0.85" filter="url(#bl2_5)"/>
<rect x="886" y="1346.5" width="38" height="7" rx="3.5" fill="#000" fill-opacity="0.55" filter="url(#bl3)"/>
<rect x="885" y="1313" width="40" height="50" rx="4" fill="#000" fill-opacity="0.04" filter="url(#bl4)"/>
<rect x="932.8" y="1327.15" width="36" height="4.5" rx="2.25" fill="#000" fill-opacity="0.33" filter="url(#bl2_5)"/>
<rect x="932.3" y="1345.6" width="37" height="6" rx="3" fill="#000" fill-opacity="0.5" filter="url(#bl2_5)"/>
<rect x="930.8" y="1313" width="40" height="50" rx="4" fill="#000" fill-opacity="0.04" filter="url(#bl4)"/>
<rect x="980" y="1327.15" width="36" height="4.5" rx="2.25" fill="#000" fill-opacity="0.33" filter="url(#bl2_5)"/>
<rect x="979.5" y="1345.6" width="37" height="6" rx="3" fill="#000" fill-opacity="0.5" filter="url(#bl2_5)"/>
<rect x="978" y="1313" width="40" height="50" rx="4" fill="#000" fill-opacity="0.04" filter="url(#bl4)"/>
<rect x="1027" y="1327.65" width="36" height="4.5" rx="2.25" fill="#000" fill-opacity="0.33" filter="url(#bl2_5)"/>
<rect x="1026.5" y="1346.1" width="37" height="6" rx="3" fill="#000" fill-opacity="0.5" filter="url(#bl2_5)"/>
<rect x="1025" y="1313" width="40" height="50" rx="4" fill="#000" fill-opacity="0.04" filter="url(#bl4)"/>
<rect x="1077.4" y="1326.15" width="36" height="4.5" rx="2.25" fill="#000" fill-opacity="0.33" filter="url(#bl2_5)" transform="rotate(-3 1095.4 1328.4)"/>
<rect x="1076.9" y="1344.6" width="37" height="6" rx="3" fill="#000" fill-opacity="0.5" filter="url(#bl2_5)" transform="rotate(-3 1095.4 1347.6)"/>
<rect x="1075.4" y="1313" width="40" height="50" rx="4" fill="#000" fill-opacity="0.04" filter="url(#bl4)"/>
</g>
<rect x="732.4" y="1308" width="394.1" height="58" fill="none" stroke="#231815" stroke-width="3.9"/>
<text x="712.5" y="1427.67" font-size="26" class="k" text-anchor="end" textLength="28.92" lengthAdjust="spacingAndGlyphs">50</text>
<line x1="718" y1="1418" x2="732.4" y2="1418" stroke="#000" stroke-width="3.8"/>
<clipPath id="c8"><rect x="732.4" y="1377.2" width="394.1" height="65.4"/></clipPath>
<rect x="732.4" y="1377.2" width="394.1" height="65.4" fill="#f3f3f3"/>
<g clip-path="url(#c8)">
<rect x="744.5" y="1379" width="40" height="62" rx="4" fill="#000" fill-opacity="0.04" filter="url(#bl4)"/>
<rect x="746.5" y="1390.4" width="36" height="6" rx="3" fill="#000" fill-opacity="0.11" filter="url(#bl3)"/>
<rect x="743.38" y="1407.18" width="42.23" height="8.84" rx="10.62" ry="4.42" fill="#000" fill-opacity="1" filter="url(#bl2)"/>
<rect x="793" y="1379" width="40" height="62" rx="4" fill="#000" fill-opacity="0.04" filter="url(#bl4)"/>
<rect x="795" y="1390.4" width="36" height="6" rx="3" fill="#000" fill-opacity="0.11" filter="url(#bl3)"/>
<rect x="792.4" y="1409.84" width="41.2" height="8.32" rx="10" ry="4.16" fill="#000" fill-opacity="1" filter="url(#bl2)"/>
<rect x="840.4" y="1379" width="40" height="62" rx="4" fill="#000" fill-opacity="0.04" filter="url(#bl4)"/>
<rect x="842.4" y="1390.4" width="36" height="6" rx="3" fill="#000" fill-opacity="0.11" filter="url(#bl3)"/>
<rect x="839.8" y="1410.84" width="41.2" height="8.32" rx="10" ry="4.16" fill="#000" fill-opacity="1" filter="url(#bl2)"/>
<rect x="886" y="1379" width="40" height="62" rx="4" fill="#000" fill-opacity="0.04" filter="url(#bl4)"/>
<rect x="888" y="1390.4" width="36" height="6" rx="3" fill="#000" fill-opacity="0.11" filter="url(#bl3)"/>
<rect x="884.37" y="1410.82" width="43.26" height="9.36" rx="11.25" ry="4.68" fill="#000" fill-opacity="1" filter="url(#bl2)"/>
<rect x="931.8" y="1379" width="40" height="62" rx="4" fill="#000" fill-opacity="0.04" filter="url(#bl4)"/>
<rect x="933.8" y="1390.4" width="36" height="6" rx="3" fill="#000" fill-opacity="0.11" filter="url(#bl3)"/>
<rect x="930.17" y="1410.06" width="43.26" height="9.88" rx="11.88" ry="4.94" fill="#000" fill-opacity="1" filter="url(#bl2)"/>
<rect x="979" y="1379" width="40" height="62" rx="4" fill="#000" fill-opacity="0.04" filter="url(#bl4)"/>
<rect x="981" y="1390.4" width="36" height="6" rx="3" fill="#000" fill-opacity="0.11" filter="url(#bl3)"/>
<rect x="977.88" y="1409.82" width="42.23" height="9.36" rx="11.25" ry="4.68" fill="#000" fill-opacity="1" filter="url(#bl2)"/>
<rect x="1026" y="1379" width="40" height="62" rx="4" fill="#000" fill-opacity="0.04" filter="url(#bl4)"/>
<rect x="1028" y="1390.4" width="36" height="6" rx="3" fill="#000" fill-opacity="0.11" filter="url(#bl3)"/>
<rect x="1026.43" y="1409.34" width="39.14" height="8.32" rx="10" ry="4.16" fill="#000" fill-opacity="0.95" filter="url(#bl2)"/>
<rect x="1076.4" y="1379" width="40" height="62" rx="4" fill="#000" fill-opacity="0.04" filter="url(#bl4)"/>
<rect x="1078.4" y="1390.4" width="36" height="6" rx="3" fill="#000" fill-opacity="0.11" filter="url(#bl3)"/>
<rect x="1077.9" y="1406.25" width="37" height="6.5" rx="3.25" fill="#000" fill-opacity="0.75" filter="url(#bl2)" transform="rotate(-4 1096.4 1409.5)"/>
</g>
<rect x="732.4" y="1377.2" width="394.1" height="65.4" fill="none" stroke="#231815" stroke-width="3.9"/>
<text x="712.5" y="1463.67" font-size="26" class="k" text-anchor="end" textLength="28.92" lengthAdjust="spacingAndGlyphs">75</text>
<line x1="718" y1="1454" x2="732.4" y2="1454" stroke="#000" stroke-width="3.8"/>
<clipPath id="c9"><rect x="732.4" y="1453.7" width="394.1" height="52.7"/></clipPath>
<rect x="732.4" y="1453.7" width="394.1" height="52.7" fill="#fbfbfb"/>
<g clip-path="url(#c9)">
<rect x="748.18" y="1475.28" width="42.23" height="11.44" rx="13.75" ry="5.72" fill="#000" fill-opacity="1" filter="url(#bl2)"/>
<rect x="800.8" y="1477" width="35" height="7" rx="3.5" fill="#000" fill-opacity="0.24" filter="url(#bl3)"/>
<rect x="850.5" y="1479" width="30" height="6" rx="3" fill="#000" fill-opacity="0.06" filter="url(#bl3)"/>
<rect x="894.7" y="1480.5" width="30" height="6" rx="3" fill="#000" fill-opacity="0.09" filter="url(#bl3)"/>
<rect x="937.12" y="1475.54" width="40.17" height="10.92" rx="13.12" ry="5.46" fill="#000" fill-opacity="1" filter="url(#bl2)"/>
<rect x="987.5" y="1476.5" width="30" height="6" rx="3" fill="#000" fill-opacity="0.07" filter="url(#bl3)"/>
</g>
<rect x="732.4" y="1453.7" width="394.1" height="52.7" fill="none" stroke="#231815" stroke-width="3.9"/>
<text x="712.5" y="1550.17" font-size="26" class="k" text-anchor="end" textLength="28.92" lengthAdjust="spacingAndGlyphs">60</text>
<line x1="718" y1="1540.5" x2="732.4" y2="1540.5" stroke="#000" stroke-width="3.8"/>
<clipPath id="c10"><rect x="732.4" y="1520.7" width="394.1" height="73.1"/></clipPath>
<rect x="732.4" y="1520.7" width="394.1" height="73.1" fill="#fbfbfb"/>
<g clip-path="url(#c10)">
<rect x="753.1" y="1544.5" width="33" height="9" rx="4.5" fill="#000" fill-opacity="0.33" filter="url(#bl3)"/>
<rect x="750.55" y="1553.36" width="38.11" height="9.88" rx="11.88" ry="4.94" fill="#000" fill-opacity="0.97" filter="url(#bl2)"/>
<rect x="799.7" y="1544.5" width="33" height="9" rx="4.5" fill="#000" fill-opacity="0.33" filter="url(#bl3)"/>
<rect x="797.15" y="1553.36" width="38.11" height="9.88" rx="11.88" ry="4.94" fill="#000" fill-opacity="0.97" filter="url(#bl2)"/>
<rect x="843.8" y="1545" width="33" height="9" rx="4.5" fill="#000" fill-opacity="0.33" filter="url(#bl3)"/>
<rect x="841.25" y="1553.86" width="38.11" height="9.88" rx="11.88" ry="4.94" fill="#000" fill-opacity="0.97" filter="url(#bl2)"/>
<rect x="888.6" y="1545.5" width="33" height="9" rx="4.5" fill="#000" fill-opacity="0.33" filter="url(#bl3)"/>
<rect x="886.05" y="1554.36" width="38.11" height="9.88" rx="11.88" ry="4.94" fill="#000" fill-opacity="0.97" filter="url(#bl2)"/>
<rect x="933.4" y="1545" width="33" height="9" rx="4.5" fill="#000" fill-opacity="0.33" filter="url(#bl3)"/>
<rect x="930.85" y="1553.86" width="38.11" height="9.88" rx="11.88" ry="4.94" fill="#000" fill-opacity="0.97" filter="url(#bl2)"/>
<rect x="979" y="1545" width="33" height="9" rx="4.5" fill="#000" fill-opacity="0.33" filter="url(#bl3)"/>
<rect x="976.45" y="1553.86" width="38.11" height="9.88" rx="11.88" ry="4.94" fill="#000" fill-opacity="0.97" filter="url(#bl2)"/>
<rect x="1023.2" y="1544.5" width="33" height="9" rx="4.5" fill="#000" fill-opacity="0.33" filter="url(#bl3)"/>
<rect x="1020.65" y="1553.36" width="38.11" height="9.88" rx="11.88" ry="4.94" fill="#000" fill-opacity="0.97" filter="url(#bl2)"/>
<rect x="1070.4" y="1542.5" width="33" height="9" rx="4.5" fill="#000" fill-opacity="0.33" filter="url(#bl3)" transform="rotate(-4 1086.9 1547)"/>
<rect x="1067.85" y="1551.36" width="38.11" height="9.88" rx="11.88" ry="4.94" fill="#000" fill-opacity="0.97" filter="url(#bl2)" transform="rotate(-4 1086.9 1556.3)"/>
</g>
<rect x="732.4" y="1520.7" width="394.1" height="73.1" fill="none" stroke="#231815" stroke-width="3.9"/>
<text x="712.5" y="1657.37" font-size="26" class="k" text-anchor="end" textLength="28.92" lengthAdjust="spacingAndGlyphs">50</text>
<line x1="718" y1="1647.7" x2="732.4" y2="1647.7" stroke="#000" stroke-width="3.8"/>
<clipPath id="c11"><rect x="732.4" y="1612" width="394.1" height="65"/></clipPath>
<rect x="732.4" y="1612" width="394.1" height="65" fill="#fcfcfc"/>
<g clip-path="url(#c11)">
<rect x="748.01" y="1636.04" width="47.38" height="10.92" rx="13.12" ry="5.46" fill="#000" fill-opacity="0.98" filter="url(#bl2)" transform="rotate(3 771.7 1641.5)"/>
<rect x="794.61" y="1639.14" width="47.38" height="10.92" rx="13.12" ry="5.46" fill="#000" fill-opacity="0.98" filter="url(#bl2)" transform="rotate(2 818.3 1644.6)"/>
<rect x="838.81" y="1641.04" width="47.38" height="10.92" rx="13.12" ry="5.46" fill="#000" fill-opacity="0.98" filter="url(#bl2)" transform="rotate(1 862.5 1646.5)"/>
<rect x="882.31" y="1643.14" width="47.38" height="10.92" rx="13.12" ry="5.46" fill="#000" fill-opacity="0.98" filter="url(#bl2)"/>
<rect x="927.11" y="1641.04" width="47.38" height="10.92" rx="13.12" ry="5.46" fill="#000" fill-opacity="0.98" filter="url(#bl2)" transform="rotate(-1 950.8 1646.5)"/>
<rect x="970.61" y="1641.54" width="47.38" height="10.92" rx="13.12" ry="5.46" fill="#000" fill-opacity="0.98" filter="url(#bl2)"/>
<rect x="1013.91" y="1641.04" width="47.38" height="10.92" rx="13.12" ry="5.46" fill="#000" fill-opacity="0.98" filter="url(#bl2)" transform="rotate(-2 1037.6 1646.5)"/>
<rect x="1059.51" y="1636.54" width="47.38" height="10.92" rx="13.12" ry="5.46" fill="#000" fill-opacity="0.98" filter="url(#bl2)" transform="rotate(-4 1083.2 1642)"/>
</g>
<rect x="732.4" y="1612" width="394.1" height="65" fill="none" stroke="#231815" stroke-width="3.9"/>
<text x="35" y="2211.6" font-size="36" textLength="20.02" lengthAdjust="spacingAndGlyphs">k</text>
<text x="429" y="2232" font-size="26" text-anchor="middle" textLength="63.58" lengthAdjust="spacingAndGlyphs">HeLa</text>
<text x="326.3" y="2259" font-size="26" text-anchor="middle" textLength="40.42" lengthAdjust="spacingAndGlyphs">WT</text>
<line x1="236.8" y1="2269" x2="402.6" y2="2269" stroke="#120c0a" stroke-width="3.2"/>
<text x="467.4" y="2259" font-size="26" textLength="108.34" lengthAdjust="spacingAndGlyphs"><tspan font-style="italic">MIB2</tspan> KO</text>
<line x1="441" y1="2269" x2="590.5" y2="2269" stroke="#120c0a" stroke-width="3.2"/>
<text x="77.4" y="2303" font-size="26" textLength="115" lengthAdjust="spacingAndGlyphs">TNF/CHX</text>
<text x="237.9" y="2303" font-size="26" text-anchor="middle" textLength="14.46" lengthAdjust="spacingAndGlyphs">0</text>
<text x="282.6" y="2303" font-size="26" text-anchor="middle" textLength="14.46" lengthAdjust="spacingAndGlyphs">1</text>
<text x="319.5" y="2303" font-size="26" text-anchor="middle" textLength="14.46" lengthAdjust="spacingAndGlyphs">2</text>
<text x="356.8" y="2303" font-size="26" text-anchor="middle" textLength="14.46" lengthAdjust="spacingAndGlyphs">4</text>
<text x="401.6" y="2303" font-size="26" text-anchor="middle" textLength="14.46" lengthAdjust="spacingAndGlyphs">8</text>
<text x="438.4" y="2303" font-size="26" text-anchor="middle" textLength="14.46" lengthAdjust="spacingAndGlyphs">0</text>
<text x="468.4" y="2303" font-size="26" text-anchor="middle" textLength="14.46" lengthAdjust="spacingAndGlyphs">1</text>
<text x="506.3" y="2303" font-size="26" text-anchor="middle" textLength="14.46" lengthAdjust="spacingAndGlyphs">2</text>
<text x="551" y="2303" font-size="26" text-anchor="middle" textLength="14.46" lengthAdjust="spacingAndGlyphs">4</text>
<text x="589.5" y="2303" font-size="26" text-anchor="middle" textLength="14.46" lengthAdjust="spacingAndGlyphs">8</text>
<text x="627.9" y="2303" font-size="26" text-anchor="middle" textLength="17.34" lengthAdjust="spacingAndGlyphs">P</text>
<text x="103.7" y="2340.5" font-size="26" textLength="50.56" lengthAdjust="spacingAndGlyphs">(kD)</text>
<text x="185.8" y="2340.5" font-size="26" text-anchor="end" textLength="28.92" lengthAdjust="spacingAndGlyphs">75</text>
<line x1="193.5" y1="2332.3" x2="206.6" y2="2332.3" stroke="#000" stroke-width="3.8"/>
<text x="185.8" y="2402" font-size="26" text-anchor="end" textLength="28.92" lengthAdjust="spacingAndGlyphs">75</text>
<line x1="193.5" y1="2393.8" x2="206.6" y2="2393.8" stroke="#000" stroke-width="3.8"/>
<text x="185.8" y="2466.8" font-size="26" text-anchor="end" textLength="28.92" lengthAdjust="spacingAndGlyphs">60</text>
<line x1="193.5" y1="2456" x2="206.6" y2="2456" stroke="#000" stroke-width="3.8"/>
<text x="879" y="2232" font-size="26" text-anchor="middle" textLength="95.39" lengthAdjust="spacingAndGlyphs">HCT116</text>
<text x="763.2" y="2259" font-size="26" text-anchor="middle" textLength="40.42" lengthAdjust="spacingAndGlyphs">WT</text>
<line x1="682.6" y1="2269" x2="841.6" y2="2269" stroke="#120c0a" stroke-width="3.2"/>
<text x="903.7" y="2259" font-size="26" textLength="108.34" lengthAdjust="spacingAndGlyphs"><tspan font-style="italic">MIB2</tspan> KO</text>
<line x1="879" y1="2269" x2="1033.7" y2="2269" stroke="#120c0a" stroke-width="3.2"/>
<text x="685.3" y="2303" font-size="26" text-anchor="middle" textLength="14.46" lengthAdjust="spacingAndGlyphs">0</text>
<text x="722.1" y="2303" font-size="26" text-anchor="middle" textLength="14.46" lengthAdjust="spacingAndGlyphs">1</text>
<text x="766.8" y="2303" font-size="26" text-anchor="middle" textLength="14.46" lengthAdjust="spacingAndGlyphs">2</text>
<text x="804.7" y="2303" font-size="26" text-anchor="middle" textLength="14.46" lengthAdjust="spacingAndGlyphs">4</text>
<text x="842.1" y="2303" font-size="26" text-anchor="middle" textLength="14.46" lengthAdjust="spacingAndGlyphs">8</text>
<text x="881" y="2303" font-size="26" text-anchor="middle" textLength="14.46" lengthAdjust="spacingAndGlyphs">0</text>
<text x="916.8" y="2303" font-size="26" text-anchor="middle" textLength="14.46" lengthAdjust="spacingAndGlyphs">1</text>
<text x="955.3" y="2303" font-size="26" text-anchor="middle" textLength="14.46" lengthAdjust="spacingAndGlyphs">2</text>
<text x="992.1" y="2303" font-size="26" text-anchor="middle" textLength="14.46" lengthAdjust="spacingAndGlyphs">4</text>
<text x="1030" y="2303" font-size="26" text-anchor="middle" textLength="14.46" lengthAdjust="spacingAndGlyphs">8</text>
<text x="1068.4" y="2303" font-size="26" text-anchor="middle" textLength="17.34" lengthAdjust="spacingAndGlyphs">P</text>
<text x="1100" y="2303" font-size="26" textLength="43.32" lengthAdjust="spacingAndGlyphs">(hr)</text>
<text x="1099.3" y="2345.5" font-size="26" textLength="92.46" lengthAdjust="spacingAndGlyphs">pRIPK1</text>
<text x="1099.3" y="2414.3" font-size="26" textLength="76.58" lengthAdjust="spacingAndGlyphs">RIPK1</text>
<text x="1099.3" y="2469.5" font-size="26" textLength="88.88" lengthAdjust="spacingAndGlyphs">tubulin</text>
<clipPath id="c12"><rect x="206.6" y="2310.3" width="437.3" height="52.4"/></clipPath>
<rect x="206.6" y="2310.3" width="437.3" height="52.4" fill="#fcfcfc"/>
<g clip-path="url(#c12)">
<rect x="218.9" y="2322.05" width="30" height="3.5" rx="1.75" fill="#000" fill-opacity="0.03" filter="url(#bl2)"/>
<rect x="218.9" y="2328.65" width="30" height="3.5" rx="1.75" fill="#000" fill-opacity="0.03" filter="url(#bl2)"/>
<rect x="219.9" y="2350.75" width="28" height="3.5" rx="1.75" fill="#000" fill-opacity="0.02" filter="url(#bl2)"/>
<rect x="260.6" y="2322.05" width="30" height="3.5" rx="1.75" fill="#000" fill-opacity="0.13" filter="url(#bl2)"/>
<rect x="260.6" y="2328.65" width="30" height="3.5" rx="1.75" fill="#000" fill-opacity="0.12" filter="url(#bl2)"/>
<rect x="261.6" y="2350.75" width="28" height="3.5" rx="1.75" fill="#000" fill-opacity="0.1" filter="url(#bl2)"/>
<rect x="300.1" y="2322.05" width="30" height="3.5" rx="1.75" fill="#000" fill-opacity="0.08" filter="url(#bl2)"/>
<rect x="300.1" y="2328.65" width="30" height="3.5" rx="1.75" fill="#000" fill-opacity="0.07" filter="url(#bl2)"/>
<rect x="301.1" y="2350.75" width="28" height="3.5" rx="1.75" fill="#000" fill-opacity="0.06" filter="url(#bl2)"/>
<rect x="340.2" y="2322.05" width="30" height="3.5" rx="1.75" fill="#000" fill-opacity="0.07" filter="url(#bl2)"/>
<rect x="340.2" y="2328.65" width="30" height="3.5" rx="1.75" fill="#000" fill-opacity="0.06" filter="url(#bl2)"/>
<rect x="341.2" y="2350.75" width="28" height="3.5" rx="1.75" fill="#000" fill-opacity="0.06" filter="url(#bl2)"/>
<rect x="379" y="2322.05" width="30" height="3.5" rx="1.75" fill="#000" fill-opacity="0.06" filter="url(#bl2)"/>
<rect x="379" y="2328.65" width="30" height="3.5" rx="1.75" fill="#000" fill-opacity="0.05" filter="url(#bl2)"/>
<rect x="380" y="2350.75" width="28" height="3.5" rx="1.75" fill="#000" fill-opacity="0.05" filter="url(#bl2)"/>
<rect x="418.5" y="2322.05" width="30" height="3.5" rx="1.75" fill="#000" fill-opacity="0.14" filter="url(#bl2)"/>
<rect x="418.5" y="2328.65" width="30" height="3.5" rx="1.75" fill="#000" fill-opacity="0.13" filter="url(#bl2)"/>
<rect x="419.5" y="2350.75" width="28" height="3.5" rx="1.75" fill="#000" fill-opacity="0.11" filter="url(#bl2)"/>
<rect x="457" y="2322.05" width="30" height="3.5" rx="1.75" fill="#000" fill-opacity="0.06" filter="url(#bl2)"/>
<rect x="457" y="2328.65" width="30" height="3.5" rx="1.75" fill="#000" fill-opacity="0.05" filter="url(#bl2)"/>
<rect x="458" y="2350.75" width="28" height="3.5" rx="1.75" fill="#000" fill-opacity="0.05" filter="url(#bl2)"/>
<rect x="494.4" y="2322.05" width="30" height="3.5" rx="1.75" fill="#000" fill-opacity="0.1" filter="url(#bl2)"/>
<rect x="494.4" y="2328.65" width="30" height="3.5" rx="1.75" fill="#000" fill-opacity="0.09" filter="url(#bl2)"/>
<rect x="495.4" y="2350.75" width="28" height="3.5" rx="1.75" fill="#000" fill-opacity="0.08" filter="url(#bl2)"/>
<rect x="532.3" y="2322.05" width="30" height="3.5" rx="1.75" fill="#000" fill-opacity="0.05" filter="url(#bl2)"/>
<rect x="532.3" y="2328.65" width="30" height="3.5" rx="1.75" fill="#000" fill-opacity="0.05" filter="url(#bl2)"/>
<rect x="533.3" y="2350.75" width="28" height="3.5" rx="1.75" fill="#000" fill-opacity="0.04" filter="url(#bl2)"/>
<rect x="571" y="2322.05" width="30" height="3.5" rx="1.75" fill="#000" fill-opacity="0.05" filter="url(#bl2)"/>
<rect x="571" y="2328.65" width="30" height="3.5" rx="1.75" fill="#000" fill-opacity="0.05" filter="url(#bl2)"/>
<rect x="572" y="2350.75" width="28" height="3.5" rx="1.75" fill="#000" fill-opacity="0.04" filter="url(#bl2)"/>
<rect x="611.8" y="2334.65" width="28" height="4.5" rx="2.25" fill="#000" fill-opacity="0.85" filter="url(#bl1_5)"/>
<rect x="613.8" y="2347.35" width="24" height="3.5" rx="1.75" fill="#000" fill-opacity="0.33" filter="url(#bl2)"/>
<rect x="612.8" y="2319" width="26" height="4" rx="2" fill="#000" fill-opacity="0.08" filter="url(#bl2)"/>
</g>
<rect x="206.6" y="2310.3" width="437.3" height="52.4" fill="none" stroke="#231815" stroke-width="3.9"/>
<clipPath id="c13"><rect x="206.6" y="2375.7" width="437.3" height="53"/></clipPath>
<rect x="206.6" y="2375.7" width="437.3" height="53" fill="#fcfcfc"/>
<g clip-path="url(#c13)">
<rect x="212.84" y="2395.34" width="38.11" height="8.32" rx="10" ry="4.16" fill="#000" fill-opacity="1" filter="url(#bl1_8)" transform="rotate(4 231.9 2399.5)"/>
<rect x="254.55" y="2395.56" width="38.11" height="12.48" rx="15" ry="6.24" fill="#000" fill-opacity="1" filter="url(#bl1_8)"/>
<rect x="294.05" y="2395.82" width="38.11" height="11.96" rx="14.38" ry="5.98" fill="#000" fill-opacity="1" filter="url(#bl1_8)"/>
<rect x="334.14" y="2396.02" width="38.11" height="11.96" rx="14.38" ry="5.98" fill="#000" fill-opacity="1" filter="url(#bl1_8)"/>
<rect x="372.94" y="2395.78" width="38.11" height="11.44" rx="13.75" ry="5.72" fill="#000" fill-opacity="1" filter="url(#bl1_8)"/>
<rect x="412.44" y="2396" width="38.11" height="13" rx="15.62" ry="6.5" fill="#000" fill-opacity="1" filter="url(#bl1_8)"/>
<rect x="450.94" y="2396.6" width="38.11" height="10.4" rx="12.5" ry="5.2" fill="#000" fill-opacity="1" filter="url(#bl1_8)"/>
<rect x="488.34" y="2396.08" width="38.11" height="11.44" rx="13.75" ry="5.72" fill="#000" fill-opacity="1" filter="url(#bl1_8)"/>
<rect x="526.25" y="2395.54" width="38.11" height="10.92" rx="13.12" ry="5.46" fill="#000" fill-opacity="1" filter="url(#bl1_8)" transform="rotate(-2 545.3 2401)"/>
<rect x="564.95" y="2394.28" width="38.11" height="11.44" rx="13.75" ry="5.72" fill="#000" fill-opacity="1" filter="url(#bl1_8)" transform="rotate(-3 584 2400)"/>
<rect x="608.8" y="2396.05" width="25" height="4.5" rx="2.25" fill="#000" fill-opacity="0.7" filter="url(#bl2)"/>
</g>
<rect x="206.6" y="2375.7" width="437.3" height="53" fill="none" stroke="#231815" stroke-width="3.9"/>
<clipPath id="c14"><rect x="206.6" y="2440.7" width="437.3" height="53.5"/></clipPath>
<rect x="206.6" y="2440.7" width="437.3" height="53.5" fill="#fcfcfc"/>
<g clip-path="url(#c14)">
<rect x="216.38" y="2462.58" width="42.23" height="8.84" rx="10.62" ry="4.42" fill="#000" fill-opacity="1" filter="url(#bl1_8)" transform="rotate(3 237.5 2467)"/>
<rect x="258.58" y="2464.88" width="42.23" height="8.84" rx="10.62" ry="4.42" fill="#000" fill-opacity="1" filter="url(#bl1_8)"/>
<rect x="299.88" y="2465.08" width="42.23" height="8.84" rx="10.62" ry="4.42" fill="#000" fill-opacity="1" filter="url(#bl1_8)"/>
<rect x="339.38" y="2465.08" width="42.23" height="8.84" rx="10.62" ry="4.42" fill="#000" fill-opacity="1" filter="url(#bl1_8)"/>
<rect x="378.88" y="2464.58" width="42.23" height="8.84" rx="10.62" ry="4.42" fill="#000" fill-opacity="1" filter="url(#bl1_8)"/>
<rect x="418.28" y="2465.08" width="42.23" height="8.84" rx="10.62" ry="4.42" fill="#000" fill-opacity="1" filter="url(#bl1_8)"/>
<rect x="456.88" y="2465.08" width="42.23" height="8.84" rx="10.62" ry="4.42" fill="#000" fill-opacity="1" filter="url(#bl1_8)"/>
<rect x="494.88" y="2463.78" width="42.23" height="8.84" rx="10.62" ry="4.42" fill="#000" fill-opacity="1" filter="url(#bl1_8)" transform="rotate(-1 516 2468.2)"/>
<rect x="534.09" y="2462.58" width="42.23" height="8.84" rx="10.62" ry="4.42" fill="#000" fill-opacity="1" filter="url(#bl1_8)" transform="rotate(-2 555.2 2467)"/>
<rect x="573.09" y="2461.08" width="42.23" height="8.84" rx="10.62" ry="4.42" fill="#000" fill-opacity="1" filter="url(#bl1_8)" transform="rotate(-3 594.2 2465.5)"/>
<rect x="612.08" y="2458.78" width="28.84" height="8.84" rx="10.62" ry="4.42" fill="#000" fill-opacity="1" filter="url(#bl1_8)" transform="rotate(-2 626.5 2463.2)"/>
</g>
<rect x="206.6" y="2440.7" width="437.3" height="53.5" fill="none" stroke="#231815" stroke-width="3.9"/>
<clipPath id="c15"><rect x="657.4" y="2310.3" width="436.6" height="52.4"/></clipPath>
<rect x="657.4" y="2310.3" width="436.6" height="52.4" fill="#fcfcfc"/>
<g clip-path="url(#c15)">
<rect x="669.9" y="2322.05" width="30" height="3.5" rx="1.75" fill="#000" fill-opacity="0.03" filter="url(#bl2)"/>
<rect x="669.9" y="2328.65" width="30" height="3.5" rx="1.75" fill="#000" fill-opacity="0.03" filter="url(#bl2)"/>
<rect x="670.9" y="2350.75" width="28" height="3.5" rx="1.75" fill="#000" fill-opacity="0.02" filter="url(#bl2)"/>
<rect x="711.4" y="2322.05" width="30" height="3.5" rx="1.75" fill="#000" fill-opacity="0.07" filter="url(#bl2)"/>
<rect x="711.4" y="2328.65" width="30" height="3.5" rx="1.75" fill="#000" fill-opacity="0.06" filter="url(#bl2)"/>
<rect x="712.4" y="2350.75" width="28" height="3.5" rx="1.75" fill="#000" fill-opacity="0.06" filter="url(#bl2)"/>
<rect x="750.5" y="2322.05" width="30" height="3.5" rx="1.75" fill="#000" fill-opacity="0.05" filter="url(#bl2)"/>
<rect x="750.5" y="2328.65" width="30" height="3.5" rx="1.75" fill="#000" fill-opacity="0.05" filter="url(#bl2)"/>
<rect x="751.5" y="2350.75" width="28" height="3.5" rx="1.75" fill="#000" fill-opacity="0.04" filter="url(#bl2)"/>
<rect x="789.8" y="2322.05" width="30" height="3.5" rx="1.75" fill="#000" fill-opacity="0.05" filter="url(#bl2)"/>
<rect x="789.8" y="2328.65" width="30" height="3.5" rx="1.75" fill="#000" fill-opacity="0.05" filter="url(#bl2)"/>
<rect x="790.8" y="2350.75" width="28" height="3.5" rx="1.75" fill="#000" fill-opacity="0.04" filter="url(#bl2)"/>
<rect x="829.1" y="2322.05" width="30" height="3.5" rx="1.75" fill="#000" fill-opacity="0.04" filter="url(#bl2)"/>
<rect x="829.1" y="2328.65" width="30" height="3.5" rx="1.75" fill="#000" fill-opacity="0.04" filter="url(#bl2)"/>
<rect x="830.1" y="2350.75" width="28" height="3.5" rx="1.75" fill="#000" fill-opacity="0.03" filter="url(#bl2)"/>
<rect x="868.6" y="2322.05" width="30" height="3.5" rx="1.75" fill="#000" fill-opacity="0.1" filter="url(#bl2)"/>
<rect x="868.6" y="2328.65" width="30" height="3.5" rx="1.75" fill="#000" fill-opacity="0.09" filter="url(#bl2)"/>
<rect x="869.6" y="2350.75" width="28" height="3.5" rx="1.75" fill="#000" fill-opacity="0.08" filter="url(#bl2)"/>
<rect x="904.5" y="2322.05" width="30" height="3.5" rx="1.75" fill="#000" fill-opacity="0.07" filter="url(#bl2)"/>
<rect x="904.5" y="2328.65" width="30" height="3.5" rx="1.75" fill="#000" fill-opacity="0.06" filter="url(#bl2)"/>
<rect x="905.5" y="2350.75" width="28" height="3.5" rx="1.75" fill="#000" fill-opacity="0.06" filter="url(#bl2)"/>
<rect x="943" y="2322.05" width="30" height="3.5" rx="1.75" fill="#000" fill-opacity="0.08" filter="url(#bl2)"/>
<rect x="943" y="2328.65" width="30" height="3.5" rx="1.75" fill="#000" fill-opacity="0.07" filter="url(#bl2)"/>
<rect x="944" y="2350.75" width="28" height="3.5" rx="1.75" fill="#000" fill-opacity="0.06" filter="url(#bl2)"/>
<rect x="981.7" y="2322.05" width="30" height="3.5" rx="1.75" fill="#000" fill-opacity="0.05" filter="url(#bl2)"/>
<rect x="981.7" y="2328.65" width="30" height="3.5" rx="1.75" fill="#000" fill-opacity="0.05" filter="url(#bl2)"/>
<rect x="982.7" y="2350.75" width="28" height="3.5" rx="1.75" fill="#000" fill-opacity="0.04" filter="url(#bl2)"/>
<rect x="1020.5" y="2322.05" width="30" height="3.5" rx="1.75" fill="#000" fill-opacity="0.05" filter="url(#bl2)"/>
<rect x="1020.5" y="2328.65" width="30" height="3.5" rx="1.75" fill="#000" fill-opacity="0.05" filter="url(#bl2)"/>
<rect x="1021.5" y="2350.75" width="28" height="3.5" rx="1.75" fill="#000" fill-opacity="0.04" filter="url(#bl2)"/>
<rect x="1055.44" y="2331.2" width="31.93" height="7.8" rx="9.38" ry="3.9" fill="#000" fill-opacity="1" filter="url(#bl1_5)"/>
<rect x="1057.4" y="2346.2" width="28" height="4" rx="2" fill="#000" fill-opacity="0.28" filter="url(#bl2)"/>
<rect x="1058.4" y="2354.5" width="26" height="4" rx="2" fill="#000" fill-opacity="0.12" filter="url(#bl2)"/>
<rect x="1057.4" y="2316.5" width="28" height="4" rx="2" fill="#000" fill-opacity="0.12" filter="url(#bl2)"/>
</g>
<rect x="657.4" y="2310.3" width="436.6" height="52.4" fill="none" stroke="#231815" stroke-width="3.9"/>
<clipPath id="c16"><rect x="657.4" y="2375.7" width="436.6" height="53"/></clipPath>
<rect x="657.4" y="2375.7" width="436.6" height="53" fill="#fcfcfc"/>
<g clip-path="url(#c16)">
<rect x="662.3" y="2396.82" width="41.2" height="11.96" rx="14.38" ry="5.98" fill="#000" fill-opacity="1" filter="url(#bl1_8)"/>
<rect x="703.8" y="2398.82" width="41.2" height="11.96" rx="14.38" ry="5.98" fill="#000" fill-opacity="1" filter="url(#bl1_8)"/>
<rect x="742.9" y="2398.42" width="41.2" height="11.96" rx="14.38" ry="5.98" fill="#000" fill-opacity="1" filter="url(#bl1_8)"/>
<rect x="782.2" y="2398.42" width="41.2" height="11.96" rx="14.38" ry="5.98" fill="#000" fill-opacity="1" filter="url(#bl1_8)"/>
<rect x="821.5" y="2397.62" width="41.2" height="11.96" rx="14.38" ry="5.98" fill="#000" fill-opacity="1" filter="url(#bl1_8)"/>
<rect x="861" y="2399.62" width="41.2" height="11.96" rx="14.38" ry="5.98" fill="#000" fill-opacity="1" filter="url(#bl1_8)"/>
<rect x="896.9" y="2398.62" width="41.2" height="11.96" rx="14.38" ry="5.98" fill="#000" fill-opacity="1" filter="url(#bl1_8)"/>
<rect x="935.4" y="2398.22" width="41.2" height="11.96" rx="14.38" ry="5.98" fill="#000" fill-opacity="1" filter="url(#bl1_8)"/>
<rect x="974.1" y="2397.82" width="41.2" height="11.96" rx="14.38" ry="5.98" fill="#000" fill-opacity="1" filter="url(#bl1_8)"/>
<rect x="1012.9" y="2396.82" width="41.2" height="11.96" rx="14.38" ry="5.98" fill="#000" fill-opacity="1" filter="url(#bl1_8)"/>
<rect x="1055.3" y="2397.5" width="31" height="6" rx="3" fill="#000" fill-opacity="0.97" filter="url(#bl2)" transform="rotate(-4 1070.8 2400.5)"/>
</g>
<rect x="657.4" y="2375.7" width="436.6" height="53" fill="none" stroke="#231815" stroke-width="3.9"/>
<clipPath id="c17"><rect x="657.4" y="2440.7" width="436.6" height="53.5"/></clipPath>
<rect x="657.4" y="2440.7" width="436.6" height="53.5" fill="#fcfcfc"/>
<g clip-path="url(#c17)">
<rect x="660.56" y="2459.1" width="44.29" height="10.4" rx="12.5" ry="5.2" fill="#000" fill-opacity="1" filter="url(#bl1_8)" transform="rotate(3 682.7 2464.3)"/>
<rect x="702.25" y="2461.8" width="44.29" height="10.4" rx="12.5" ry="5.2" fill="#000" fill-opacity="1" filter="url(#bl1_8)" transform="rotate(1 724.4 2467)"/>
<rect x="741.86" y="2462.6" width="44.29" height="10.4" rx="12.5" ry="5.2" fill="#000" fill-opacity="1" filter="url(#bl1_8)"/>
<rect x="781.36" y="2462.8" width="44.29" height="10.4" rx="12.5" ry="5.2" fill="#000" fill-opacity="1" filter="url(#bl1_8)"/>
<rect x="820.86" y="2462.8" width="44.29" height="10.4" rx="12.5" ry="5.2" fill="#000" fill-opacity="1" filter="url(#bl1_8)"/>
<rect x="860.36" y="2464.3" width="44.29" height="10.4" rx="12.5" ry="5.2" fill="#000" fill-opacity="1" filter="url(#bl1_8)"/>
<rect x="896.36" y="2464.1" width="44.29" height="10.4" rx="12.5" ry="5.2" fill="#000" fill-opacity="1" filter="url(#bl1_8)"/>
<rect x="934.25" y="2464.1" width="44.29" height="10.4" rx="12.5" ry="5.2" fill="#000" fill-opacity="1" filter="url(#bl1_8)"/>
<rect x="973.75" y="2463.3" width="44.29" height="10.4" rx="12.5" ry="5.2" fill="#000" fill-opacity="1" filter="url(#bl1_8)" transform="rotate(-1 995.9 2468.5)"/>
<rect x="1013.15" y="2462.3" width="44.29" height="10.4" rx="12.5" ry="5.2" fill="#000" fill-opacity="1" filter="url(#bl1_8)" transform="rotate(-2 1035.3 2467.5)"/>
<rect x="1054.91" y="2460.3" width="33.99" height="10.4" rx="12.5" ry="5.2" fill="#000" fill-opacity="1" filter="url(#bl1_8)" transform="rotate(-2 1071.9 2465.5)"/>
</g>
<rect x="657.4" y="2440.7" width="436.6" height="53.5" fill="none" stroke="#231815" stroke-width="3.9"/>
</svg>
</body></html>
